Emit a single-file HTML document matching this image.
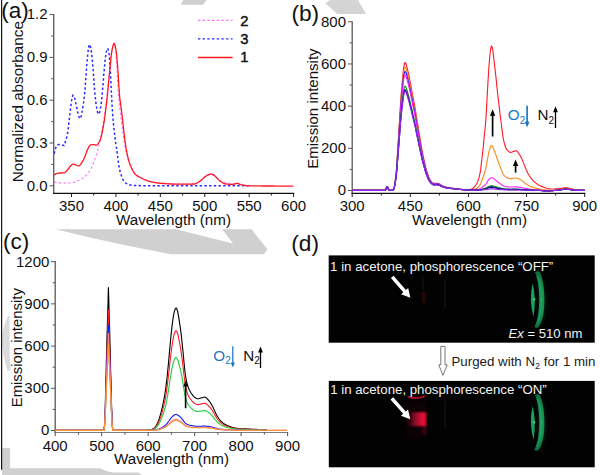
<!DOCTYPE html>
<html><head><meta charset="utf-8"><title>figure</title>
<style>html,body{margin:0;padding:0;background:#fff;}body{width:600px;height:475px;overflow:hidden;}svg{display:block;}text{font-family:"Liberation Sans", sans-serif;}</style>
</head><body>
<svg width="600" height="475" viewBox="0 0 600 475">
<defs><filter id="blur1" x="-50%" y="-50%" width="200%" height="200%"><feGaussianBlur stdDeviation="0.7"/></filter><filter id="blur15" x="-50%" y="-50%" width="200%" height="200%"><feGaussianBlur stdDeviation="1.25"/></filter><filter id="blur1b" x="-50%" y="-50%" width="200%" height="200%"><feGaussianBlur stdDeviation="0.95"/></filter><filter id="blur2" x="-50%" y="-50%" width="200%" height="200%"><feGaussianBlur stdDeviation="2.2"/></filter><linearGradient id="ringg" x1="0" x2="0" y1="0" y2="1"><stop offset="0" stop-color="#0f6e3e"/><stop offset="0.3" stop-color="#189253"/><stop offset="0.7" stop-color="#189253"/><stop offset="1" stop-color="#0f6e3e"/></linearGradient><linearGradient id="redg" x1="0" x2="1" y1="0" y2="0"><stop offset="0" stop-color="#50061a" stop-opacity="0"/><stop offset="0.18" stop-color="#56061a" stop-opacity="0.3"/><stop offset="0.45" stop-color="#960c28" stop-opacity="0.85"/><stop offset="0.78" stop-color="#dc1036"/><stop offset="1" stop-color="#f2143e"/></linearGradient></defs>
<rect width="600" height="475" fill="#fff"/>
<polygon points="183.5,0 206.8,0 202.8,4.8 180.6,4.8" fill="#d0d0d0"/>
<polygon points="330,0 358,0 366,14 337.3,14 325.3,3.3" fill="#d4d4d4"/>
<path d="M55.8,229.3 L176,229.3 L233,243.4 L222.3,229.3 L251.5,229.3 L267.4,249.2 L264,254.3 L171,254.3 Q110,243 55.8,229.3 Z" fill="#d0d0d0"/>
<path d="M9.6,316 L8.2,316 Q2.3,326 2.3,340 Q2.5,356 7.3,370.6 L10.6,370.6 Q9.4,356 9.6,340 Z" fill="#dbdbdb"/>
<path d="M2.1,448 L10.1,448 L10.1,468.3 L100,468.3 Q108,472.5 116,472.5 L138,472.5 L142,475 L2.1,475 Z" fill="#d0d0d0"/>
<rect x="1.1" y="0" width="1.1" height="469.8" fill="#000"/>
<line x1="53.73" y1="13.9" x2="53.73" y2="194.0" stroke="#585858" stroke-width="1.3"/>
<line x1="53.029999999999994" y1="193.4" x2="294.20000000000005" y2="193.4" stroke="#111" stroke-width="1.1"/>
<line x1="49.529999999999994" y1="185.8" x2="53.73" y2="185.8" stroke="#585858" stroke-width="1"/>
<line x1="49.529999999999994" y1="142.99" x2="53.73" y2="142.99" stroke="#585858" stroke-width="1"/>
<line x1="49.529999999999994" y1="100.18000000000002" x2="53.73" y2="100.18000000000002" stroke="#585858" stroke-width="1"/>
<line x1="49.529999999999994" y1="57.370000000000005" x2="53.73" y2="57.370000000000005" stroke="#585858" stroke-width="1"/>
<line x1="49.529999999999994" y1="14.56000000000003" x2="53.73" y2="14.56000000000003" stroke="#585858" stroke-width="1"/>
<line x1="51.129999999999995" y1="164.395" x2="53.73" y2="164.395" stroke="#585858" stroke-width="1"/>
<line x1="51.129999999999995" y1="121.58500000000001" x2="53.73" y2="121.58500000000001" stroke="#585858" stroke-width="1"/>
<line x1="51.129999999999995" y1="78.77500000000002" x2="53.73" y2="78.77500000000002" stroke="#585858" stroke-width="1"/>
<line x1="51.129999999999995" y1="35.965" x2="53.73" y2="35.965" stroke="#585858" stroke-width="1"/>
<line x1="71.5" y1="193.4" x2="71.5" y2="197.0" stroke="#111" stroke-width="0.95"/>
<line x1="115.92" y1="193.4" x2="115.92" y2="197.0" stroke="#111" stroke-width="0.95"/>
<line x1="160.34" y1="193.4" x2="160.34" y2="197.0" stroke="#111" stroke-width="0.95"/>
<line x1="204.76" y1="193.4" x2="204.76" y2="197.0" stroke="#111" stroke-width="0.95"/>
<line x1="249.18" y1="193.4" x2="249.18" y2="197.0" stroke="#111" stroke-width="0.95"/>
<line x1="293.6" y1="193.4" x2="293.6" y2="197.0" stroke="#111" stroke-width="0.95"/>
<line x1="93.71000000000001" y1="193.4" x2="93.71000000000001" y2="195.5" stroke="#111" stroke-width="0.95"/>
<line x1="138.13" y1="193.4" x2="138.13" y2="195.5" stroke="#111" stroke-width="0.95"/>
<line x1="182.55" y1="193.4" x2="182.55" y2="195.5" stroke="#111" stroke-width="0.95"/>
<line x1="226.97" y1="193.4" x2="226.97" y2="195.5" stroke="#111" stroke-width="0.95"/>
<line x1="271.39" y1="193.4" x2="271.39" y2="195.5" stroke="#111" stroke-width="0.95"/>
<text x="71.5" y="211" font-size="15" text-anchor="middle" fill="#111">350</text>
<text x="115.92" y="211" font-size="15" text-anchor="middle" fill="#111">400</text>
<text x="160.34" y="211" font-size="15" text-anchor="middle" fill="#111">450</text>
<text x="204.76" y="211" font-size="15" text-anchor="middle" fill="#111">500</text>
<text x="249.18" y="211" font-size="15" text-anchor="middle" fill="#111">550</text>
<text x="293.6" y="211" font-size="15" text-anchor="middle" fill="#111">600</text>
<text x="47.6" y="190.65" font-size="15" text-anchor="end" fill="#111">0.0</text>
<text x="47.6" y="147.84" font-size="15" text-anchor="end" fill="#111">0.3</text>
<text x="47.6" y="105.03" font-size="15" text-anchor="end" fill="#111">0.6</text>
<text x="47.6" y="62.22" font-size="15" text-anchor="end" fill="#111">0.9</text>
<text x="47.6" y="19.41" font-size="15" text-anchor="end" fill="#111">1.2</text>
<text x="173.5" y="224.6" font-size="15.2" text-anchor="middle" fill="#111">Wavelength (nm)</text>
<text transform="translate(23.2,101.7) rotate(-90)" font-size="15.27" text-anchor="middle" fill="#111">Normalized absorbance</text>
<path d="M54.2,182.1 L55.0,182.2 L55.7,182.3 L56.5,182.4 L57.2,182.5 L58.0,182.6 L58.7,182.7 L59.5,182.8 L60.2,182.8 L61.0,182.9 L61.7,182.9 L62.5,182.9 L63.2,182.9 L64.0,182.9 L64.7,182.9 L65.5,183.0 L66.2,183.0 L67.0,183.0 L67.7,183.0 L68.5,183.0 L69.2,183.0 L70.0,183.0 L70.7,183.0 L71.5,183.0 L72.2,182.8 L73.0,182.6 L73.7,182.4 L74.5,182.2 L75.2,181.9 L76.0,181.7 L76.7,181.4 L77.5,181.0 L78.2,180.6 L79.0,180.3 L79.7,179.9 L80.5,179.5 L81.2,179.1 L82.0,178.7 L82.7,178.2 L83.5,177.7 L84.2,177.1 L85.0,176.5 L85.7,175.8 L86.5,175.1 L87.2,174.3 L88.0,173.4 L88.7,172.4 L89.5,171.2 L90.2,170.0 L91.0,168.7 L91.7,167.2 L92.5,165.5 L93.2,163.8 L94.0,161.9 L94.7,159.9 L95.5,157.8 L96.2,155.5 L97.0,153.0 L97.7,150.3 L98.5,147.3 L99.2,144.1 L100.0,140.7 L100.7,137.1 L101.5,133.3 L102.2,129.1 L103.0,124.7 L103.7,120.0 L104.5,115.0 L105.2,109.6 L106.0,104.0 L106.7,98.0 L107.5,91.4 L108.2,84.3 L109.0,77.1 L109.7,70.1 L110.5,62.6 L111.2,55.5 L112.0,50.2 L112.7,46.8 L113.5,44.2 L114.2,43.6 L115.0,46.2 L115.7,50.7 L116.5,60.7 L117.2,73.6 L118.0,89.0 L118.7,99.0 L119.5,105.5 L120.2,111.7 L121.0,118.0 L121.7,123.9 L122.5,129.6 L123.2,134.9 L124.0,140.1 L124.7,145.1 L125.5,149.1 L126.2,152.3 L127.0,155.1 L127.7,157.7 L128.4,160.1 L129.2,162.3 L129.9,164.2 L130.7,165.9 L131.4,167.6 L132.2,169.2 L132.9,170.7 L133.7,172.0 L134.4,173.2 L135.2,174.1 L135.9,174.8 L136.7,175.4 L137.4,175.9 L138.2,176.4 L138.9,176.8 L139.7,177.1 L140.4,177.5 L141.2,177.9 L141.9,178.3 L142.7,178.7 L143.4,179.0 L144.2,179.4 L144.9,179.7 L145.7,180.0 L146.4,180.4 L147.2,180.6 L147.9,180.9 L148.7,181.1 L149.4,181.4 L150.2,181.5 L150.9,181.7 L151.7,181.9 L152.4,182.1 L153.2,182.2 L153.9,182.4 L154.7,182.5 L155.4,182.6 L156.2,182.7 L156.9,182.9 L157.7,183.0 L158.4,183.0 L159.2,183.1 L159.9,183.2 L160.7,183.3 L161.4,183.3 L162.2,183.4 L162.9,183.4 L163.7,183.5 L164.4,183.5 L165.2,183.6 L165.9,183.7 L166.7,183.7 L167.4,183.8 L168.2,183.8 L168.9,183.8 L169.7,183.9 L170.4,183.9 L171.2,184.0 L171.9,184.0 L172.7,184.0 L173.4,184.1 L174.2,184.1 L174.9,184.1 L175.7,184.1 L176.4,184.2 L177.2,184.2 L177.9,184.2 L178.7,184.2 L179.4,184.2 L180.2,184.2 L180.9,184.2 L181.7,184.2 L182.4,184.2 L183.2,184.2 L183.9,184.2 L184.7,184.2 L185.4,184.2 L186.2,184.2 L186.9,184.2 L187.7,184.1 L188.4,184.1 L189.2,184.1 L189.9,184.1 L190.7,184.1 L191.4,184.1 L192.2,184.1 L192.9,184.0 L193.7,184.0 L194.4,184.0 L195.2,183.8 L195.9,183.5 L196.7,183.2 L197.4,182.8 L198.2,182.4 L198.9,181.9 L199.7,181.5 L200.4,181.0 L201.2,180.5 L201.9,179.8 L202.7,179.1 L203.4,178.4 L204.2,177.8 L204.9,177.2 L205.7,176.7 L206.4,176.3 L207.2,175.9 L207.9,175.5 L208.7,175.1 L209.4,174.9 L210.2,174.7 L210.9,174.6 L211.7,174.7 L212.4,174.9 L213.2,175.2 L213.9,175.6 L214.7,176.0 L215.4,176.5 L216.2,177.1 L216.9,177.7 L217.7,178.5 L218.4,179.2 L219.2,179.9 L219.9,180.4 L220.7,180.8 L221.4,181.2 L222.2,181.5 L222.9,181.9 L223.7,182.2 L224.4,182.4 L225.2,182.5 L225.9,182.6 L226.7,182.7 L227.4,182.8 L228.2,182.9 L228.9,183.0 L229.7,183.2 L230.4,183.6 L231.2,184.0 L231.9,184.2 L232.7,184.2 L233.4,184.0 L234.2,183.9 L234.9,183.7 L235.7,183.5 L236.4,183.4 L237.2,183.4 L237.9,183.5 L238.7,183.8 L239.4,184.1 L240.2,184.4 L240.9,184.7 L241.7,184.9 L242.4,185.1 L243.2,185.2 L243.9,185.3 L244.7,185.4 L245.4,185.5 L246.2,185.6 L246.9,185.7 L247.7,185.7 L248.4,185.8 L249.2,185.8 L249.9,185.8" fill="none" stroke="#ff78ff" stroke-width="1.2" stroke-dasharray="2.4 2.3"/>
<path d="M54.2,153.7 L55.0,150.3 L55.7,148.0 L56.5,146.2 L57.2,145.3 L58.0,144.8 L58.7,144.6 L59.5,144.5 L60.2,144.4 L61.0,144.5 L61.7,144.7 L62.5,145.0 L63.2,145.4 L64.0,145.6 L64.7,143.9 L65.5,141.2 L66.2,138.8 L67.0,136.0 L67.7,132.3 L68.5,126.6 L69.2,119.9 L70.0,113.4 L70.7,106.9 L71.5,100.9 L72.2,97.3 L73.0,95.2 L73.7,95.7 L74.5,97.4 L75.2,100.1 L76.0,103.8 L76.7,107.5 L77.5,111.3 L78.2,114.2 L79.0,116.8 L79.7,118.6 L80.5,118.5 L81.2,115.9 L82.0,112.2 L82.7,108.2 L83.5,103.0 L84.2,96.9 L85.0,89.7 L85.7,79.7 L86.5,68.9 L87.2,59.8 L88.0,52.0 L88.7,47.0 L89.5,44.4 L90.2,45.5 L91.0,48.7 L91.7,54.2 L92.5,61.5 L93.2,70.6 L94.0,81.6 L94.7,91.8 L95.5,99.2 L96.2,105.4 L97.0,109.8 L97.7,112.6 L98.5,114.2 L99.2,113.5 L100.0,111.2 L100.7,107.2 L101.5,101.1 L102.2,94.0 L103.0,85.0 L103.7,75.4 L104.5,67.2 L105.2,59.4 L106.0,53.7 L106.7,50.3 L107.5,48.3 L108.2,49.3 L109.0,52.7 L109.7,61.1 L110.5,74.2 L111.2,88.5 L112.0,103.9 L112.7,115.6 L113.5,124.1 L114.2,131.2 L115.0,137.5 L115.7,143.1 L116.5,148.1 L117.2,153.2 L118.0,159.0 L118.7,164.6 L119.5,168.9 L120.2,172.0 L121.0,174.4 L121.7,176.5 L122.5,178.5 L123.2,180.1 L124.0,181.3 L124.7,182.2 L125.5,182.8 L126.2,183.3 L127.0,183.8 L127.7,184.1 L128.4,184.5 L129.2,184.7 L129.9,184.9 L130.7,185.0 L131.4,185.1 L132.2,185.2 L132.9,185.3 L133.7,185.4 L134.4,185.4 L135.2,185.5 L135.9,185.5 L136.7,185.5 L137.4,185.6 L138.2,185.6 L138.9,185.6 L139.7,185.6 L140.4,185.7 L141.2,185.7 L141.9,185.7 L142.7,185.7 L143.4,185.7 L144.2,185.7 L144.9,185.7 L145.7,185.7 L146.4,185.7 L147.2,185.7 L147.9,185.7 L148.7,185.7 L149.4,185.7 L150.2,185.7 L150.9,185.7 L151.7,185.7 L152.4,185.7 L153.2,185.7 L153.9,185.7 L154.7,185.7 L155.4,185.7 L156.2,185.7 L156.9,185.7 L157.7,185.7 L158.4,185.7 L159.2,185.7 L159.9,185.7 L160.7,185.7 L161.4,185.7 L162.2,185.7 L162.9,185.7 L163.7,185.7 L164.4,185.7 L165.2,185.7 L165.9,185.7 L166.7,185.7 L167.4,185.8 L168.2,185.8 L168.9,185.8 L169.7,185.8 L170.4,185.8 L171.2,185.8 L171.9,185.8 L172.7,185.8 L173.4,185.8 L174.2,185.8 L174.9,185.8 L175.7,185.8 L176.4,185.8 L177.2,185.8 L177.9,185.8 L178.7,185.8 L179.4,185.8 L180.2,185.8 L180.9,185.8 L181.7,185.8 L182.4,185.8 L183.2,185.8 L183.9,185.8 L184.7,185.8 L185.4,185.8 L186.2,185.8 L186.9,185.8 L187.7,185.8 L188.4,185.8 L189.2,185.8 L189.9,185.8 L190.7,185.8 L191.4,185.8 L192.2,185.8 L192.9,185.8 L193.7,185.8 L194.4,185.8 L195.2,185.8 L195.9,185.8 L196.7,185.8 L197.4,185.8 L198.2,185.8 L198.9,185.8 L199.7,185.8 L200.4,185.8 L201.2,185.8 L201.9,185.8 L202.7,185.8 L203.4,185.8 L204.2,185.8 L204.9,185.8 L205.7,185.8 L206.4,185.8 L207.2,185.8 L207.9,185.8 L208.7,185.8 L209.4,185.8 L210.2,185.8 L210.9,185.8 L211.7,185.8 L212.4,185.8 L213.2,185.8 L213.9,185.8 L214.7,185.8 L215.4,185.8 L216.2,185.8 L216.9,185.8 L217.7,185.8 L218.4,185.8 L219.2,185.8 L219.9,185.8 L220.7,185.8 L221.4,185.8 L222.2,185.8 L222.9,185.8 L223.7,185.8 L224.4,185.8 L225.2,185.8 L225.9,185.8 L226.7,185.8 L227.4,185.8 L228.2,185.8 L228.9,185.8 L229.7,185.8 L230.4,185.8 L231.2,185.8 L231.9,185.8 L232.7,185.8 L233.4,185.8 L234.2,185.8 L234.9,185.8 L235.7,185.8 L236.4,185.8 L237.2,185.8 L237.9,185.8 L238.7,185.8 L239.4,185.8 L240.2,185.8 L240.9,185.8 L241.7,185.8 L242.4,185.8 L243.2,185.8 L243.9,185.8 L244.7,185.8 L245.4,185.8 L246.2,185.8 L246.9,185.8 L247.7,185.8 L248.4,185.8" fill="none" stroke="#2a2aff" stroke-width="1.5" stroke-dasharray="2.4 2.3"/>
<path d="M54.2,175.2 L55.0,174.5 L55.7,173.9 L56.5,173.5 L57.2,173.3 L58.0,173.2 L58.7,173.1 L59.5,173.0 L60.2,173.0 L61.0,173.0 L61.7,173.0 L62.5,172.9 L63.2,172.9 L64.0,172.9 L64.7,172.6 L65.5,172.0 L66.2,171.3 L67.0,170.6 L67.7,169.7 L68.5,168.8 L69.2,167.8 L70.0,166.7 L70.7,165.8 L71.5,165.1 L72.2,164.5 L73.0,164.1 L73.7,164.2 L74.5,164.4 L75.2,164.7 L76.0,165.0 L76.7,165.3 L77.5,165.6 L78.2,165.8 L79.0,165.9 L79.7,165.5 L80.5,164.6 L81.2,163.4 L82.0,162.3 L82.7,161.1 L83.5,159.7 L84.2,158.2 L85.0,156.5 L85.7,154.4 L86.5,152.2 L87.2,150.1 L88.0,148.6 L88.7,147.1 L89.5,145.8 L90.2,145.0 L91.0,144.8 L91.7,144.7 L92.5,144.6 L93.2,144.6 L94.0,144.6 L94.7,144.8 L95.5,145.0 L96.2,145.1 L97.0,144.9 L97.7,144.2 L98.5,143.2 L99.2,142.0 L100.0,140.6 L100.7,138.5 L101.5,135.6 L102.2,132.1 L103.0,128.3 L103.7,124.2 L104.5,119.3 L105.2,113.9 L106.0,107.9 L106.7,101.6 L107.5,94.5 L108.2,86.6 L109.0,78.6 L109.7,71.0 L110.5,63.1 L111.2,55.6 L112.0,50.2 L112.7,46.8 L113.5,44.2 L114.2,43.6 L115.0,45.3 L115.7,48.5 L116.5,53.2 L117.2,61.4 L118.0,71.3 L118.7,83.7 L119.5,95.1 L120.2,101.7 L121.0,106.9 L121.7,112.3 L122.5,118.9 L123.2,126.0 L124.0,132.8 L124.7,138.7 L125.5,144.3 L126.2,149.1 L127.0,153.0 L127.7,156.4 L128.4,159.5 L129.2,162.1 L129.9,164.2 L130.7,166.1 L131.4,167.8 L132.2,169.4 L132.9,170.8 L133.7,172.1 L134.4,173.2 L135.2,174.1 L135.9,174.8 L136.7,175.4 L137.4,175.9 L138.2,176.4 L138.9,176.8 L139.7,177.1 L140.4,177.5 L141.2,177.9 L141.9,178.3 L142.7,178.7 L143.4,179.0 L144.2,179.4 L144.9,179.7 L145.7,180.0 L146.4,180.4 L147.2,180.6 L147.9,180.9 L148.7,181.1 L149.4,181.4 L150.2,181.5 L150.9,181.7 L151.7,181.9 L152.4,182.1 L153.2,182.2 L153.9,182.4 L154.7,182.5 L155.4,182.6 L156.2,182.7 L156.9,182.9 L157.7,183.0 L158.4,183.0 L159.2,183.1 L159.9,183.2 L160.7,183.3 L161.4,183.3 L162.2,183.4 L162.9,183.4 L163.7,183.5 L164.4,183.5 L165.2,183.6 L165.9,183.7 L166.7,183.7 L167.4,183.8 L168.2,183.8 L168.9,183.8 L169.7,183.9 L170.4,183.9 L171.2,184.0 L171.9,184.0 L172.7,184.0 L173.4,184.1 L174.2,184.1 L174.9,184.1 L175.7,184.1 L176.4,184.2 L177.2,184.2 L177.9,184.2 L178.7,184.2 L179.4,184.2 L180.2,184.2 L180.9,184.2 L181.7,184.2 L182.4,184.2 L183.2,184.2 L183.9,184.2 L184.7,184.2 L185.4,184.2 L186.2,184.2 L186.9,184.2 L187.7,184.1 L188.4,184.1 L189.2,184.1 L189.9,184.1 L190.7,184.1 L191.4,184.1 L192.2,184.1 L192.9,184.0 L193.7,184.0 L194.4,184.0 L195.2,183.8 L195.9,183.5 L196.7,183.1 L197.4,182.7 L198.2,182.2 L198.9,181.7 L199.7,181.2 L200.4,180.7 L201.2,180.1 L201.9,179.5 L202.7,178.8 L203.4,178.1 L204.2,177.4 L204.9,176.8 L205.7,176.2 L206.4,175.7 L207.2,175.2 L207.9,174.8 L208.7,174.5 L209.4,174.3 L210.2,174.1 L210.9,174.0 L211.7,174.1 L212.4,174.3 L213.2,174.6 L213.9,175.1 L214.7,175.7 L215.4,176.4 L216.2,177.2 L216.9,178.0 L217.7,178.8 L218.4,179.6 L219.2,180.4 L219.9,181.0 L220.7,181.5 L221.4,182.0 L222.2,182.4 L222.9,182.9 L223.7,183.3 L224.4,183.6 L225.2,183.8 L225.9,184.0 L226.7,184.1 L227.4,184.2 L228.2,184.2 L228.9,184.3 L229.7,184.3 L230.4,184.4 L231.2,184.4 L231.9,184.4 L232.7,184.3 L233.4,184.2 L234.2,184.0 L234.9,183.8 L235.7,183.6 L236.4,183.4 L237.2,183.4 L237.9,183.5 L238.7,183.8 L239.4,184.1 L240.2,184.4 L240.9,184.7 L241.7,184.9 L242.4,185.1 L243.2,185.2 L243.9,185.3 L244.7,185.4 L245.4,185.5 L246.2,185.6 L246.9,185.6 L247.7,185.7 L248.4,185.7 L249.2,185.8 L249.9,185.8 L250.7,185.8 L251.4,185.8 L252.2,185.8 L252.9,185.8 L253.7,185.9 L254.4,185.9 L255.2,185.9 L255.9,185.9 L256.7,185.9 L257.4,185.9 L258.2,185.9 L258.9,185.9 L259.7,185.9 L260.4,185.9 L261.2,185.9 L261.9,186.0 L262.7,186.0 L263.4,186.0 L264.2,186.0 L264.9,186.0 L265.7,186.0 L266.4,186.0 L267.2,186.0 L267.9,186.0 L268.7,186.0 L269.4,186.0 L270.2,186.0 L270.9,186.0 L271.7,186.0 L272.4,186.0 L273.2,186.0 L273.9,186.0 L274.7,186.1 L275.4,186.1 L276.2,186.1 L276.9,186.1 L277.7,186.1 L278.4,186.1 L279.2,186.1 L279.9,186.1 L280.7,186.1 L281.4,186.1 L282.2,186.1 L282.9,186.1 L283.7,186.1 L284.4,186.1 L285.2,186.1 L285.9,186.1 L286.7,186.1 L287.4,186.1 L288.2,186.1 L288.9,186.1 L289.7,186.1 L290.4,186.1 L291.2,186.1 L291.9,186.1 L292.7,186.1 L293.4,186.1" fill="none" stroke="#ff1820" stroke-width="1.3"/>
<line x1="197.9" y1="20.3" x2="232.6" y2="20.3" stroke="#ff6cff" stroke-width="1.35" stroke-dasharray="2.4 2.3"/>
<text x="240.2" y="25.5" font-size="14.8" stroke="#111" stroke-width="0.45" fill="#111">2</text>
<line x1="197.9" y1="38.8" x2="232.6" y2="38.8" stroke="#2a2aff" stroke-width="1.35" stroke-dasharray="2.4 2.3"/>
<text x="240.2" y="43.9" font-size="14.8" stroke="#111" stroke-width="0.45" fill="#111">3</text>
<line x1="197.9" y1="57.5" x2="232.6" y2="57.5" stroke="#ff1820" stroke-width="1.35"/>
<text x="240.2" y="62.0" font-size="14.8" stroke="#111" stroke-width="0.45" fill="#111">1</text>
<text x="1.3" y="18.4" font-size="22.5" fill="#111">(a)</text>
<line x1="352.2" y1="21.2" x2="352.2" y2="194.0" stroke="#585858" stroke-width="1.3"/>
<line x1="351.5" y1="193.4" x2="585.3000000000001" y2="193.4" stroke="#111" stroke-width="1.1"/>
<line x1="348.0" y1="190.5" x2="352.2" y2="190.5" stroke="#585858" stroke-width="1"/>
<line x1="348.0" y1="148.32" x2="352.2" y2="148.32" stroke="#585858" stroke-width="1"/>
<line x1="348.0" y1="106.14" x2="352.2" y2="106.14" stroke="#585858" stroke-width="1"/>
<line x1="348.0" y1="63.959999999999994" x2="352.2" y2="63.959999999999994" stroke="#585858" stroke-width="1"/>
<line x1="348.0" y1="21.78" x2="352.2" y2="21.78" stroke="#585858" stroke-width="1"/>
<line x1="349.59999999999997" y1="169.41" x2="352.2" y2="169.41" stroke="#585858" stroke-width="1"/>
<line x1="349.59999999999997" y1="127.22999999999999" x2="352.2" y2="127.22999999999999" stroke="#585858" stroke-width="1"/>
<line x1="349.59999999999997" y1="85.05" x2="352.2" y2="85.05" stroke="#585858" stroke-width="1"/>
<line x1="349.59999999999997" y1="42.870000000000005" x2="352.2" y2="42.870000000000005" stroke="#585858" stroke-width="1"/>
<line x1="352.2" y1="193.4" x2="352.2" y2="197.0" stroke="#111" stroke-width="0.95"/>
<line x1="410.325" y1="193.4" x2="410.325" y2="197.0" stroke="#111" stroke-width="0.95"/>
<line x1="468.45" y1="193.4" x2="468.45" y2="197.0" stroke="#111" stroke-width="0.95"/>
<line x1="526.575" y1="193.4" x2="526.575" y2="197.0" stroke="#111" stroke-width="0.95"/>
<line x1="584.7" y1="193.4" x2="584.7" y2="197.0" stroke="#111" stroke-width="0.95"/>
<line x1="381.2625" y1="193.4" x2="381.2625" y2="195.5" stroke="#111" stroke-width="0.95"/>
<line x1="439.3875" y1="193.4" x2="439.3875" y2="195.5" stroke="#111" stroke-width="0.95"/>
<line x1="497.5125" y1="193.4" x2="497.5125" y2="195.5" stroke="#111" stroke-width="0.95"/>
<line x1="555.6375" y1="193.4" x2="555.6375" y2="195.5" stroke="#111" stroke-width="0.95"/>
<text x="352.2" y="211" font-size="15" text-anchor="middle" fill="#111">300</text>
<text x="410.325" y="211" font-size="15" text-anchor="middle" fill="#111">450</text>
<text x="468.45" y="211" font-size="15" text-anchor="middle" fill="#111">600</text>
<text x="526.575" y="211" font-size="15" text-anchor="middle" fill="#111">750</text>
<text x="584.7" y="211" font-size="15" text-anchor="middle" fill="#111">900</text>
<text x="346" y="195.35" font-size="15" text-anchor="end" fill="#111">0</text>
<text x="346" y="153.17" font-size="15" text-anchor="end" fill="#111">200</text>
<text x="346" y="110.99" font-size="15" text-anchor="end" fill="#111">400</text>
<text x="346" y="68.81" font-size="15" text-anchor="end" fill="#111">600</text>
<text x="346" y="26.63" font-size="15" text-anchor="end" fill="#111">800</text>
<text x="469.5" y="224.6" font-size="15.2" text-anchor="middle" fill="#111">Wavelength (nm)</text>
<text transform="translate(317.8,108.6) rotate(-90)" font-size="15.05" text-anchor="middle" fill="#111">Emission intensity</text>
<path d="M352.2,190.4 L352.8,190.4 L353.4,190.4 L353.9,190.4 L354.5,190.4 L355.1,190.4 L355.7,190.4 L356.3,190.4 L356.8,190.4 L357.4,190.4 L358.0,190.4 L358.6,190.4 L359.2,190.4 L359.8,190.4 L360.3,190.4 L360.9,190.4 L361.5,190.4 L362.1,190.4 L362.7,190.4 L363.2,190.4 L363.8,190.4 L364.4,190.4 L365.0,190.4 L365.6,190.4 L366.1,190.4 L366.7,190.4 L367.3,190.4 L367.9,190.4 L368.5,190.4 L369.1,190.4 L369.6,190.4 L370.2,190.4 L370.8,190.4 L371.4,190.4 L372.0,190.4 L372.5,190.4 L373.1,190.4 L373.7,190.4 L374.3,190.4 L374.9,190.4 L375.4,190.4 L376.0,190.4 L376.6,190.4 L377.2,190.4 L377.8,190.4 L378.4,190.4 L378.9,190.4 L379.5,190.4 L380.1,190.4 L380.7,190.4 L381.3,190.4 L381.8,190.4 L382.4,190.4 L383.0,190.4 L383.6,190.4 L384.2,190.4 L384.8,190.4 L385.3,190.1 L385.9,189.3 L386.5,187.8 L387.1,186.7 L387.7,187.2 L388.2,188.7 L388.8,189.9 L389.4,190.3 L390.0,190.4 L390.6,190.4 L391.1,190.4 L391.7,190.4 L392.3,190.3 L392.9,189.9 L393.5,189.3 L394.1,188.1 L394.6,185.2 L395.2,181.4 L395.8,176.4 L396.4,170.3 L397.0,162.5 L397.5,153.8 L398.1,144.3 L398.7,134.6 L399.3,124.6 L399.9,114.8 L400.4,105.6 L401.0,97.1 L401.6,89.4 L402.2,82.6 L402.8,76.4 L403.3,70.4 L403.9,66.4 L404.5,63.5 L405.1,62.4 L405.7,63.3 L406.3,64.8 L406.8,66.7 L407.4,69.2 L408.0,71.7 L408.6,74.3 L409.2,76.9 L409.7,79.8 L410.3,82.7 L410.9,85.8 L411.5,89.0 L412.1,92.1 L412.6,95.1 L413.2,98.1 L413.8,101.2 L414.4,104.4 L415.0,107.7 L415.6,111.2 L416.1,114.8 L416.7,118.4 L417.3,122.1 L417.9,125.7 L418.5,129.2 L419.0,132.7 L419.6,136.2 L420.2,139.7 L420.8,143.1 L421.4,146.5 L421.9,149.8 L422.5,152.9 L423.1,155.7 L423.7,158.5 L424.3,161.2 L424.9,163.8 L425.4,166.2 L426.0,168.6 L426.6,170.7 L427.2,172.6 L427.8,174.4 L428.3,176.0 L428.9,177.4 L429.5,178.7 L430.1,179.7 L430.7,180.7 L431.2,181.5 L431.8,182.1 L432.4,182.6 L433.0,183.0 L433.6,183.4 L434.2,183.4 L434.7,183.4 L435.3,183.3 L435.9,183.3 L436.5,183.3 L437.1,183.4 L437.6,183.4 L438.2,183.4 L438.8,183.6 L439.4,184.0 L440.0,184.3 L440.6,184.7 L441.1,185.0 L441.7,185.4 L442.3,185.7 L442.9,186.0 L443.5,186.3 L444.0,186.5 L444.6,186.7 L445.2,186.9 L445.8,187.1 L446.4,187.2 L446.9,187.3 L447.5,187.5 L448.1,187.6 L448.7,187.7 L449.3,187.8 L449.9,187.9 L450.4,188.0 L451.0,188.0 L451.6,188.1 L452.2,188.2 L452.8,188.3 L453.3,188.3 L453.9,188.4 L454.5,188.5 L455.1,188.6 L455.7,188.7 L456.2,188.7 L456.8,188.8 L457.4,188.9 L458.0,189.0 L458.6,189.0 L459.1,189.1 L459.7,189.2 L460.3,189.2 L460.9,189.3 L461.5,189.4 L462.1,189.4 L462.6,189.5 L463.2,189.5 L463.8,189.6 L464.4,189.7 L465.0,189.7 L465.5,189.7 L466.1,189.7 L466.7,189.7 L467.3,189.7 L467.9,189.7 L468.4,189.6 L469.0,189.6 L469.6,189.5 L470.2,189.3 L470.8,189.2 L471.4,189.0 L471.9,188.8 L472.5,188.4 L473.1,188.0 L473.7,187.5 L474.3,186.9 L474.8,186.3 L475.4,185.6 L476.0,184.8 L476.6,183.8 L477.2,182.7 L477.8,181.4 L478.3,179.8 L478.9,177.9 L479.5,175.6 L480.1,172.9 L480.7,169.4 L481.2,164.9 L481.8,159.8 L482.4,154.8 L483.0,149.3 L483.6,143.6 L484.1,137.8 L484.7,132.2 L485.3,126.2 L485.9,118.9 L486.5,109.4 L487.0,98.9 L487.6,88.7 L488.2,78.3 L488.8,68.7 L489.4,61.2 L490.0,54.8 L490.5,50.2 L491.1,47.0 L491.7,45.9 L492.3,47.7 L492.9,50.5 L493.4,55.1 L494.0,60.3 L494.6,65.3 L495.2,70.6 L495.8,75.9 L496.4,81.2 L496.9,86.8 L497.5,92.3 L498.1,97.6 L498.7,102.7 L499.3,107.6 L499.8,112.3 L500.4,116.9 L501.0,121.5 L501.6,126.3 L502.2,130.9 L502.7,135.1 L503.3,138.5 L503.9,141.4 L504.5,143.8 L505.1,145.8 L505.6,147.2 L506.2,148.4 L506.8,149.4 L507.4,150.2 L508.0,150.8 L508.6,151.4 L509.1,151.9 L509.7,152.3 L510.3,152.4 L510.9,152.3 L511.5,152.2 L512.0,152.0 L512.6,151.8 L513.2,151.6 L513.8,151.4 L514.4,151.1 L515.0,150.9 L515.5,150.7 L516.1,150.7 L516.7,150.9 L517.3,151.5 L517.9,152.2 L518.4,153.0 L519.0,153.8 L519.6,154.7 L520.2,155.7 L520.8,156.8 L521.3,157.9 L521.9,159.1 L522.5,160.5 L523.1,161.9 L523.7,163.4 L524.2,164.9 L524.8,166.3 L525.4,167.7 L526.0,169.1 L526.6,170.5 L527.2,171.8 L527.7,173.0 L528.3,174.0 L528.9,175.0 L529.5,176.0 L530.1,176.8 L530.6,177.6 L531.2,178.4 L531.8,179.1 L532.4,179.8 L533.0,180.5 L533.5,181.1 L534.1,181.7 L534.7,182.2 L535.3,182.6 L535.9,183.1 L536.5,183.5 L537.0,183.9 L537.6,184.3 L538.2,184.7 L538.8,185.0 L539.4,185.3 L539.9,185.6 L540.5,185.9 L541.1,186.1 L541.7,186.4 L542.3,186.6 L542.9,186.9 L543.4,187.1 L544.0,187.3 L544.6,187.6 L545.2,187.8 L545.8,188.0 L546.3,188.2 L546.9,188.4 L547.5,188.6 L548.1,188.7 L548.7,188.8 L549.2,188.9 L549.8,188.9 L550.4,189.0 L551.0,189.0 L551.6,189.0 L552.1,189.0 L552.7,189.0 L553.3,189.0 L553.9,189.0 L554.5,189.0 L555.1,189.0 L555.6,188.9 L556.2,188.9 L556.8,188.9 L557.4,188.8 L558.0,188.8 L558.5,188.7 L559.1,188.6 L559.7,188.6 L560.3,188.5 L560.9,188.4 L561.5,188.3 L562.0,188.2 L562.6,188.1 L563.2,188.0 L563.8,187.9 L564.4,187.8 L564.9,187.8 L565.5,187.7 L566.1,187.7 L566.7,187.8 L567.3,187.8 L567.8,187.9 L568.4,188.0 L569.0,188.2 L569.6,188.3 L570.2,188.5 L570.8,188.6 L571.3,188.8 L571.9,188.9 L572.5,189.1 L573.1,189.2 L573.7,189.3 L574.2,189.5 L574.8,189.6 L575.4,189.7 L576.0,189.8 L576.6,189.9 L577.1,190.0 L577.7,190.0 L578.3,190.1 L578.9,190.1 L579.5,190.2 L580.0,190.2 L580.6,190.2 L581.2,190.2 L581.8,190.2 L582.4,190.3 L583.0,190.3 L583.5,190.3 L584.1,190.3 L584.7,190.3" fill="none" stroke="#ff1a28" stroke-width="1.12" stroke-linejoin="round"/>
<path d="M352.2,190.4 L352.8,190.4 L353.4,190.4 L353.9,190.4 L354.5,190.4 L355.1,190.4 L355.7,190.4 L356.3,190.4 L356.8,190.4 L357.4,190.4 L358.0,190.4 L358.6,190.4 L359.2,190.4 L359.8,190.4 L360.3,190.4 L360.9,190.4 L361.5,190.4 L362.1,190.4 L362.7,190.4 L363.2,190.4 L363.8,190.4 L364.4,190.4 L365.0,190.4 L365.6,190.4 L366.1,190.4 L366.7,190.4 L367.3,190.4 L367.9,190.4 L368.5,190.4 L369.1,190.4 L369.6,190.4 L370.2,190.4 L370.8,190.4 L371.4,190.4 L372.0,190.4 L372.5,190.4 L373.1,190.4 L373.7,190.4 L374.3,190.4 L374.9,190.4 L375.4,190.4 L376.0,190.4 L376.6,190.4 L377.2,190.4 L377.8,190.4 L378.4,190.4 L378.9,190.4 L379.5,190.4 L380.1,190.4 L380.7,190.4 L381.3,190.4 L381.8,190.4 L382.4,190.4 L383.0,190.4 L383.6,190.4 L384.2,190.4 L384.8,190.4 L385.3,190.1 L385.9,189.3 L386.5,187.8 L387.1,186.7 L387.7,187.2 L388.2,188.7 L388.8,189.9 L389.4,190.3 L390.0,190.4 L390.6,190.4 L391.1,190.4 L391.7,190.4 L392.3,190.3 L392.9,189.9 L393.5,189.4 L394.1,188.2 L394.6,185.4 L395.2,181.7 L395.8,176.9 L396.4,171.1 L397.0,163.5 L397.5,155.1 L398.1,146.0 L398.7,136.7 L399.3,127.0 L399.9,117.5 L400.4,108.7 L401.0,100.5 L401.6,93.1 L402.2,86.5 L402.8,80.5 L403.3,74.8 L403.9,70.9 L404.5,68.1 L405.1,67.1 L405.7,67.9 L406.3,69.4 L406.8,71.2 L407.4,73.6 L408.0,76.0 L408.6,78.5 L409.2,81.1 L409.7,83.8 L410.3,86.6 L410.9,89.6 L411.5,92.6 L412.1,95.6 L412.6,98.6 L413.2,101.5 L413.8,104.5 L414.4,107.5 L415.0,110.7 L415.6,114.1 L416.1,117.5 L416.7,121.0 L417.3,124.5 L417.9,128.0 L418.5,131.5 L419.0,134.8 L419.6,138.1 L420.2,141.5 L420.8,144.8 L421.4,148.1 L421.9,151.2 L422.5,154.2 L423.1,157.0 L423.7,159.6 L424.3,162.2 L424.9,164.7 L425.4,167.1 L426.0,169.4 L426.6,171.4 L427.2,173.3 L427.8,175.0 L428.3,176.5 L428.9,177.9 L429.5,179.1 L430.1,180.1 L430.7,181.0 L431.2,181.8 L431.8,182.4 L432.4,182.9 L433.0,183.3 L433.6,183.6 L434.2,183.6 L434.7,183.6 L435.3,183.6 L435.9,183.6 L436.5,183.6 L437.1,183.6 L437.6,183.6 L438.2,183.7 L438.8,183.9 L439.4,184.2 L440.0,184.6 L440.6,184.9 L441.1,185.2 L441.7,185.5 L442.3,185.9 L442.9,186.2 L443.5,186.5 L444.0,186.7 L444.6,186.9 L445.2,187.0 L445.8,187.2 L446.4,187.3 L446.9,187.5 L447.5,187.6 L448.1,187.7 L448.7,187.8 L449.3,187.9 L449.9,188.0 L450.4,188.0 L451.0,188.1 L451.6,188.2 L452.2,188.3 L452.8,188.3 L453.3,188.4 L453.9,188.5 L454.5,188.6 L455.1,188.6 L455.7,188.7 L456.2,188.8 L456.8,188.9 L457.4,188.9 L458.0,189.0 L458.6,189.1 L459.1,189.2 L459.7,189.2 L460.3,189.3 L460.9,189.3 L461.5,189.4 L462.1,189.5 L462.6,189.5 L463.2,189.6 L463.8,189.6 L464.4,189.7 L465.0,189.7 L465.5,189.8 L466.1,189.8 L466.7,189.8 L467.3,189.8 L467.9,189.9 L468.4,189.9 L469.0,189.8 L469.6,189.8 L470.2,189.8 L470.8,189.8 L471.4,189.7 L471.9,189.7 L472.5,189.6 L473.1,189.4 L473.7,189.3 L474.3,189.1 L474.8,188.9 L475.4,188.7 L476.0,188.5 L476.6,188.2 L477.2,187.9 L477.8,187.5 L478.3,187.0 L478.9,186.4 L479.5,185.7 L480.1,184.8 L480.7,183.8 L481.2,182.4 L481.8,180.8 L482.4,179.2 L483.0,177.5 L483.6,175.8 L484.1,174.0 L484.7,172.2 L485.3,170.4 L485.9,168.1 L486.5,165.1 L487.0,161.9 L487.6,158.7 L488.2,155.5 L488.8,152.5 L489.4,150.2 L490.0,148.2 L490.5,146.7 L491.1,145.8 L491.7,145.4 L492.3,146.0 L492.9,146.9 L493.4,148.3 L494.0,149.9 L494.6,151.5 L495.2,153.1 L495.8,154.7 L496.4,156.4 L496.9,158.1 L497.5,159.8 L498.1,161.5 L498.7,163.1 L499.3,164.6 L499.8,166.1 L500.4,167.5 L501.0,168.9 L501.6,170.4 L502.2,171.9 L502.7,173.2 L503.3,174.2 L503.9,175.1 L504.5,175.9 L505.1,176.5 L505.6,176.9 L506.2,177.3 L506.8,177.6 L507.4,177.9 L508.0,178.1 L508.6,178.3 L509.1,178.4 L509.7,178.5 L510.3,178.6 L510.9,178.5 L511.5,178.5 L512.0,178.4 L512.6,178.4 L513.2,178.3 L513.8,178.2 L514.4,178.2 L515.0,178.1 L515.5,178.0 L516.1,178.0 L516.7,178.1 L517.3,178.3 L517.9,178.5 L518.4,178.8 L519.0,179.0 L519.6,179.3 L520.2,179.6 L520.8,179.9 L521.3,180.3 L521.9,180.7 L522.5,181.1 L523.1,181.5 L523.7,182.0 L524.2,182.5 L524.8,182.9 L525.4,183.3 L526.0,183.8 L526.6,184.2 L527.2,184.6 L527.7,185.0 L528.3,185.3 L528.9,185.6 L529.5,185.9 L530.1,186.2 L530.6,186.4 L531.2,186.7 L531.8,186.9 L532.4,187.1 L533.0,187.3 L533.5,187.5 L534.1,187.7 L534.7,187.9 L535.3,188.0 L535.9,188.1 L536.5,188.3 L537.0,188.4 L537.6,188.5 L538.2,188.7 L538.8,188.8 L539.4,188.9 L539.9,189.0 L540.5,189.1 L541.1,189.2 L541.7,189.3 L542.3,189.5 L542.9,189.6 L543.4,189.7 L544.0,189.8 L544.6,189.9 L545.2,190.1 L545.8,190.2 L546.3,190.2 L546.9,190.3 L547.5,190.4 L548.1,190.4 L548.7,190.4 L549.2,190.4 L549.8,190.4 L550.4,190.3 L551.0,190.3 L551.6,190.2 L552.1,190.2 L552.7,190.2 L553.3,190.1 L553.9,190.1 L554.5,190.0 L555.1,190.0 L555.6,190.0 L556.2,189.9 L556.8,189.9 L557.4,189.8 L558.0,189.8 L558.5,189.7 L559.1,189.6 L559.7,189.5 L560.3,189.5 L560.9,189.4 L561.5,189.3 L562.0,189.2 L562.6,189.1 L563.2,189.0 L563.8,188.9 L564.4,188.8 L564.9,188.8 L565.5,188.7 L566.1,188.7 L566.7,188.7 L567.3,188.8 L567.8,188.9 L568.4,188.9 L569.0,189.0 L569.6,189.1 L570.2,189.3 L570.8,189.4 L571.3,189.5 L571.9,189.6 L572.5,189.7 L573.1,189.8 L573.7,189.9 L574.2,190.0 L574.8,190.0 L575.4,190.1 L576.0,190.2 L576.6,190.2 L577.1,190.3 L577.7,190.3 L578.3,190.3 L578.9,190.3 L579.5,190.3 L580.0,190.4 L580.6,190.4 L581.2,190.4 L581.8,190.4 L582.4,190.4 L583.0,190.4 L583.5,190.4 L584.1,190.4 L584.7,190.4" fill="none" stroke="#ff8a1a" stroke-width="1.12" stroke-linejoin="round"/>
<path d="M352.2,190.4 L352.8,190.4 L353.4,190.4 L353.9,190.4 L354.5,190.4 L355.1,190.4 L355.7,190.4 L356.3,190.4 L356.8,190.4 L357.4,190.4 L358.0,190.4 L358.6,190.4 L359.2,190.4 L359.8,190.4 L360.3,190.4 L360.9,190.4 L361.5,190.4 L362.1,190.4 L362.7,190.4 L363.2,190.4 L363.8,190.4 L364.4,190.4 L365.0,190.4 L365.6,190.4 L366.1,190.4 L366.7,190.4 L367.3,190.4 L367.9,190.4 L368.5,190.4 L369.1,190.4 L369.6,190.4 L370.2,190.4 L370.8,190.4 L371.4,190.4 L372.0,190.4 L372.5,190.4 L373.1,190.4 L373.7,190.4 L374.3,190.4 L374.9,190.4 L375.4,190.4 L376.0,190.4 L376.6,190.4 L377.2,190.4 L377.8,190.4 L378.4,190.4 L378.9,190.4 L379.5,190.4 L380.1,190.4 L380.7,190.4 L381.3,190.4 L381.8,190.4 L382.4,190.4 L383.0,190.4 L383.6,190.4 L384.2,190.4 L384.8,190.4 L385.3,190.1 L385.9,189.3 L386.5,187.8 L387.1,186.7 L387.7,187.2 L388.2,188.7 L388.8,189.9 L389.4,190.3 L390.0,190.4 L390.6,190.4 L391.1,190.4 L391.7,190.4 L392.3,190.3 L392.9,190.0 L393.5,189.4 L394.1,188.3 L394.6,185.6 L395.2,182.0 L395.8,177.4 L396.4,171.7 L397.0,164.4 L397.5,156.3 L398.1,147.5 L398.7,138.5 L399.3,129.2 L399.9,120.0 L400.4,111.5 L401.0,103.5 L401.6,96.4 L402.2,90.0 L402.8,84.3 L403.3,78.7 L403.9,75.0 L404.5,72.3 L405.1,71.3 L405.7,72.1 L406.3,73.5 L406.8,75.2 L407.4,77.6 L408.0,80.0 L408.6,82.3 L409.2,84.8 L409.7,87.4 L410.3,90.2 L410.9,93.1 L411.5,96.0 L412.1,98.9 L412.6,101.7 L413.2,104.5 L413.8,107.4 L414.4,110.3 L415.0,113.5 L415.6,116.7 L416.1,120.0 L416.7,123.4 L417.3,126.8 L417.9,130.2 L418.5,133.5 L419.0,136.7 L419.6,139.9 L420.2,143.2 L420.8,146.4 L421.4,149.5 L421.9,152.6 L422.5,155.5 L423.1,158.1 L423.7,160.7 L424.3,163.2 L424.9,165.6 L425.4,167.9 L426.0,170.1 L426.6,172.1 L427.2,173.9 L427.8,175.5 L428.3,177.0 L428.9,178.3 L429.5,179.5 L430.1,180.5 L430.7,181.4 L431.2,182.1 L431.8,182.7 L432.4,183.2 L433.0,183.6 L433.6,183.9 L434.2,183.9 L434.7,183.8 L435.3,183.8 L435.9,183.8 L436.5,183.8 L437.1,183.8 L437.6,183.9 L438.2,183.9 L438.8,184.1 L439.4,184.4 L440.0,184.8 L440.6,185.1 L441.1,185.4 L441.7,185.7 L442.3,186.0 L442.9,186.3 L443.5,186.6 L444.0,186.8 L444.6,187.0 L445.2,187.2 L445.8,187.3 L446.4,187.4 L446.9,187.6 L447.5,187.7 L448.1,187.8 L448.7,187.9 L449.3,188.0 L449.9,188.1 L450.4,188.1 L451.0,188.2 L451.6,188.3 L452.2,188.3 L452.8,188.4 L453.3,188.5 L453.9,188.6 L454.5,188.6 L455.1,188.7 L455.7,188.8 L456.2,188.9 L456.8,188.9 L457.4,189.0 L458.0,189.1 L458.6,189.1 L459.1,189.2 L459.7,189.3 L460.3,189.3 L460.9,189.4 L461.5,189.4 L462.1,189.5 L462.6,189.5 L463.2,189.6 L463.8,189.7 L464.4,189.7 L465.0,189.8 L465.5,189.8 L466.1,189.8 L466.7,189.9 L467.3,189.9 L467.9,189.9 L468.4,190.0 L469.0,190.0 L469.6,190.0 L470.2,190.0 L470.8,190.0 L471.4,190.0 L471.9,190.0 L472.5,190.0 L473.1,190.0 L473.7,190.0 L474.3,190.0 L474.8,190.0 L475.4,190.0 L476.0,190.0 L476.6,190.0 L477.2,190.0 L477.8,190.0 L478.3,189.9 L478.9,189.9 L479.5,189.8 L480.1,189.8 L480.7,189.7 L481.2,189.6 L481.8,189.5 L482.4,189.3 L483.0,189.2 L483.6,189.1 L484.1,188.9 L484.7,188.8 L485.3,188.6 L485.9,188.4 L486.5,188.2 L487.0,187.9 L487.6,187.6 L488.2,187.4 L488.8,187.1 L489.4,186.9 L490.0,186.8 L490.5,186.6 L491.1,186.6 L491.7,186.5 L492.3,186.6 L492.9,186.7 L493.4,186.8 L494.0,186.9 L494.6,187.1 L495.2,187.2 L495.8,187.3 L496.4,187.5 L496.9,187.6 L497.5,187.8 L498.1,187.9 L498.7,188.0 L499.3,188.2 L499.8,188.3 L500.4,188.4 L501.0,188.5 L501.6,188.7 L502.2,188.8 L502.7,188.9 L503.3,189.0 L503.9,189.1 L504.5,189.1 L505.1,189.2 L505.6,189.2 L506.2,189.3 L506.8,189.3 L507.4,189.3 L508.0,189.3 L508.6,189.3 L509.1,189.4 L509.7,189.4 L510.3,189.4 L510.9,189.4 L511.5,189.4 L512.0,189.4 L512.6,189.4 L513.2,189.4 L513.8,189.4 L514.4,189.3 L515.0,189.3 L515.5,189.3 L516.1,189.3 L516.7,189.3 L517.3,189.4 L517.9,189.4 L518.4,189.4 L519.0,189.4 L519.6,189.5 L520.2,189.5 L520.8,189.5 L521.3,189.5 L521.9,189.6 L522.5,189.6 L523.1,189.6 L523.7,189.7 L524.2,189.7 L524.8,189.8 L525.4,189.8 L526.0,189.8 L526.6,189.9 L527.2,189.9 L527.7,189.9 L528.3,190.0 L528.9,190.0 L529.5,190.0 L530.1,190.0 L530.6,190.1 L531.2,190.1 L531.8,190.1 L532.4,190.1 L533.0,190.1 L533.5,190.2 L534.1,190.2 L534.7,190.2 L535.3,190.2 L535.9,190.2 L536.5,190.2 L537.0,190.3 L537.6,190.3 L538.2,190.3 L538.8,190.3 L539.4,190.4 L539.9,190.4 L540.5,190.5 L541.1,190.5 L541.7,190.6 L542.3,190.6 L542.9,190.7 L543.4,190.8 L544.0,190.9 L544.6,190.9 L545.2,191.0 L545.8,191.0 L546.3,191.1 L546.9,191.1 L547.5,191.1 L548.1,191.1 L548.7,191.0 L549.2,191.0 L549.8,190.9 L550.4,190.9 L551.0,190.8 L551.6,190.7 L552.1,190.7 L552.7,190.6 L553.3,190.6 L553.9,190.5 L554.5,190.5 L555.1,190.4 L555.6,190.4 L556.2,190.3 L556.8,190.3 L557.4,190.2 L558.0,190.2 L558.5,190.1 L559.1,190.0 L559.7,190.0 L560.3,189.9 L560.9,189.8 L561.5,189.7 L562.0,189.6 L562.6,189.5 L563.2,189.4 L563.8,189.3 L564.4,189.2 L564.9,189.2 L565.5,189.1 L566.1,189.1 L566.7,189.1 L567.3,189.2 L567.8,189.2 L568.4,189.3 L569.0,189.4 L569.6,189.5 L570.2,189.6 L570.8,189.7 L571.3,189.8 L571.9,189.9 L572.5,190.0 L573.1,190.1 L573.7,190.1 L574.2,190.2 L574.8,190.2 L575.4,190.3 L576.0,190.3 L576.6,190.4 L577.1,190.4 L577.7,190.4 L578.3,190.4 L578.9,190.4 L579.5,190.4 L580.0,190.4 L580.6,190.4 L581.2,190.4 L581.8,190.4 L582.4,190.4 L583.0,190.4 L583.5,190.4 L584.1,190.4 L584.7,190.4" fill="none" stroke="#1a1aff" stroke-width="1.12" stroke-linejoin="round"/>
<path d="M352.2,190.4 L352.8,190.4 L353.4,190.4 L353.9,190.4 L354.5,190.4 L355.1,190.4 L355.7,190.4 L356.3,190.4 L356.8,190.4 L357.4,190.4 L358.0,190.4 L358.6,190.4 L359.2,190.4 L359.8,190.4 L360.3,190.4 L360.9,190.4 L361.5,190.4 L362.1,190.4 L362.7,190.4 L363.2,190.4 L363.8,190.4 L364.4,190.4 L365.0,190.4 L365.6,190.4 L366.1,190.4 L366.7,190.4 L367.3,190.4 L367.9,190.4 L368.5,190.4 L369.1,190.4 L369.6,190.4 L370.2,190.4 L370.8,190.4 L371.4,190.4 L372.0,190.4 L372.5,190.4 L373.1,190.4 L373.7,190.4 L374.3,190.4 L374.9,190.4 L375.4,190.4 L376.0,190.4 L376.6,190.4 L377.2,190.4 L377.8,190.4 L378.4,190.4 L378.9,190.4 L379.5,190.4 L380.1,190.4 L380.7,190.4 L381.3,190.4 L381.8,190.4 L382.4,190.4 L383.0,190.4 L383.6,190.4 L384.2,190.4 L384.8,190.4 L385.3,190.1 L385.9,189.3 L386.5,187.8 L387.1,186.7 L387.7,187.2 L388.2,188.7 L388.8,189.9 L389.4,190.3 L390.0,190.4 L390.6,190.4 L391.1,190.4 L391.7,190.4 L392.3,190.3 L392.9,190.0 L393.5,189.5 L394.1,188.3 L394.6,185.7 L395.2,182.3 L395.8,177.8 L396.4,172.3 L397.0,165.2 L397.5,157.4 L398.1,148.8 L398.7,140.1 L399.3,131.0 L399.9,122.1 L400.4,113.9 L401.0,106.2 L401.6,99.2 L402.2,93.1 L402.8,87.5 L403.3,82.1 L403.9,78.5 L404.5,75.8 L405.1,74.9 L405.7,75.6 L406.3,77.0 L406.8,78.7 L407.4,81.0 L408.0,83.3 L408.6,85.6 L409.2,88.0 L409.7,90.5 L410.3,93.2 L410.9,96.0 L411.5,98.8 L412.1,101.6 L412.6,104.4 L413.2,107.1 L413.8,109.9 L414.4,112.8 L415.0,115.8 L415.6,118.9 L416.1,122.1 L416.7,125.4 L417.3,128.7 L417.9,132.0 L418.5,135.2 L419.0,138.3 L419.6,141.4 L420.2,144.6 L420.8,147.7 L421.4,150.8 L421.9,153.7 L422.5,156.5 L423.1,159.1 L423.7,161.6 L424.3,164.0 L424.9,166.4 L425.4,168.6 L426.0,170.7 L426.6,172.6 L427.2,174.4 L427.8,176.0 L428.3,177.4 L428.9,178.7 L429.5,179.8 L430.1,180.8 L430.7,181.6 L431.2,182.3 L431.8,182.9 L432.4,183.4 L433.0,183.8 L433.6,184.1 L434.2,184.1 L434.7,184.0 L435.3,184.0 L435.9,184.0 L436.5,184.0 L437.1,184.0 L437.6,184.1 L438.2,184.1 L438.8,184.3 L439.4,184.6 L440.0,184.9 L440.6,185.2 L441.1,185.5 L441.7,185.8 L442.3,186.2 L442.9,186.5 L443.5,186.7 L444.0,186.9 L444.6,187.1 L445.2,187.3 L445.8,187.4 L446.4,187.5 L446.9,187.6 L447.5,187.8 L448.1,187.9 L448.7,188.0 L449.3,188.0 L449.9,188.1 L450.4,188.2 L451.0,188.3 L451.6,188.3 L452.2,188.4 L452.8,188.5 L453.3,188.5 L453.9,188.6 L454.5,188.7 L455.1,188.8 L455.7,188.8 L456.2,188.9 L456.8,189.0 L457.4,189.0 L458.0,189.1 L458.6,189.2 L459.1,189.2 L459.7,189.3 L460.3,189.4 L460.9,189.4 L461.5,189.5 L462.1,189.5 L462.6,189.6 L463.2,189.6 L463.8,189.7 L464.4,189.7 L465.0,189.8 L465.5,189.8 L466.1,189.9 L466.7,189.9 L467.3,189.9 L467.9,189.9 L468.4,189.9 L469.0,190.0 L469.6,190.0 L470.2,190.0 L470.8,190.0 L471.4,190.0 L471.9,190.0 L472.5,190.0 L473.1,189.9 L473.7,189.9 L474.3,189.9 L474.8,189.8 L475.4,189.8 L476.0,189.7 L476.6,189.6 L477.2,189.5 L477.8,189.4 L478.3,189.3 L478.9,189.2 L479.5,189.0 L480.1,188.7 L480.7,188.4 L481.2,188.0 L481.8,187.6 L482.4,187.2 L483.0,186.7 L483.6,186.2 L484.1,185.7 L484.7,185.2 L485.3,184.7 L485.9,184.1 L486.5,183.2 L487.0,182.3 L487.6,181.4 L488.2,180.5 L488.8,179.7 L489.4,179.0 L490.0,178.5 L490.5,178.1 L491.1,177.8 L491.7,177.7 L492.3,177.8 L492.9,178.1 L493.4,178.5 L494.0,178.9 L494.6,179.4 L495.2,179.8 L495.8,180.3 L496.4,180.8 L496.9,181.3 L497.5,181.8 L498.1,182.2 L498.7,182.7 L499.3,183.1 L499.8,183.5 L500.4,183.9 L501.0,184.3 L501.6,184.7 L502.2,185.2 L502.7,185.5 L503.3,185.8 L503.9,186.1 L504.5,186.3 L505.1,186.5 L505.6,186.6 L506.2,186.7 L506.8,186.8 L507.4,186.9 L508.0,186.9 L508.6,187.0 L509.1,187.0 L509.7,187.0 L510.3,187.0 L510.9,187.0 L511.5,187.0 L512.0,187.0 L512.6,187.0 L513.2,187.0 L513.8,187.0 L514.4,186.9 L515.0,186.9 L515.5,186.9 L516.1,186.9 L516.7,186.9 L517.3,187.0 L517.9,187.0 L518.4,187.1 L519.0,187.2 L519.6,187.3 L520.2,187.4 L520.8,187.4 L521.3,187.6 L521.9,187.7 L522.5,187.8 L523.1,187.9 L523.7,188.0 L524.2,188.2 L524.8,188.3 L525.4,188.4 L526.0,188.5 L526.6,188.7 L527.2,188.8 L527.7,188.9 L528.3,189.0 L528.9,189.1 L529.5,189.1 L530.1,189.2 L530.6,189.3 L531.2,189.4 L531.8,189.4 L532.4,189.5 L533.0,189.5 L533.5,189.6 L534.1,189.6 L534.7,189.7 L535.3,189.7 L535.9,189.8 L536.5,189.8 L537.0,189.9 L537.6,189.9 L538.2,190.0 L538.8,190.0 L539.4,190.1 L539.9,190.1 L540.5,190.2 L541.1,190.2 L541.7,190.3 L542.3,190.4 L542.9,190.5 L543.4,190.6 L544.0,190.6 L544.6,190.7 L545.2,190.8 L545.8,190.8 L546.3,190.9 L546.9,190.9 L547.5,190.9 L548.1,190.9 L548.7,190.9 L549.2,190.9 L549.8,190.8 L550.4,190.8 L551.0,190.7 L551.6,190.6 L552.1,190.6 L552.7,190.5 L553.3,190.5 L553.9,190.4 L554.5,190.4 L555.1,190.3 L555.6,190.3 L556.2,190.2 L556.8,190.2 L557.4,190.1 L558.0,190.1 L558.5,190.0 L559.1,190.0 L559.7,189.9 L560.3,189.8 L560.9,189.7 L561.5,189.6 L562.0,189.5 L562.6,189.4 L563.2,189.3 L563.8,189.2 L564.4,189.1 L564.9,189.1 L565.5,189.1 L566.1,189.0 L566.7,189.1 L567.3,189.1 L567.8,189.1 L568.4,189.2 L569.0,189.3 L569.6,189.4 L570.2,189.5 L570.8,189.6 L571.3,189.7 L571.9,189.8 L572.5,189.9 L573.1,190.0 L573.7,190.1 L574.2,190.1 L574.8,190.2 L575.4,190.2 L576.0,190.3 L576.6,190.3 L577.1,190.3 L577.7,190.4 L578.3,190.4 L578.9,190.4 L579.5,190.4 L580.0,190.4 L580.6,190.4 L581.2,190.4 L581.8,190.4 L582.4,190.4 L583.0,190.4 L583.5,190.4 L584.1,190.4 L584.7,190.4" fill="none" stroke="#ff20ff" stroke-width="1.12" stroke-linejoin="round"/>
<path d="M352.2,190.4 L352.8,190.4 L353.4,190.4 L353.9,190.4 L354.5,190.4 L355.1,190.4 L355.7,190.4 L356.3,190.4 L356.8,190.4 L357.4,190.4 L358.0,190.4 L358.6,190.4 L359.2,190.4 L359.8,190.4 L360.3,190.4 L360.9,190.4 L361.5,190.4 L362.1,190.4 L362.7,190.4 L363.2,190.4 L363.8,190.4 L364.4,190.4 L365.0,190.4 L365.6,190.4 L366.1,190.4 L366.7,190.4 L367.3,190.4 L367.9,190.4 L368.5,190.4 L369.1,190.4 L369.6,190.4 L370.2,190.4 L370.8,190.4 L371.4,190.4 L372.0,190.4 L372.5,190.4 L373.1,190.4 L373.7,190.4 L374.3,190.4 L374.9,190.4 L375.4,190.4 L376.0,190.4 L376.6,190.4 L377.2,190.4 L377.8,190.4 L378.4,190.4 L378.9,190.4 L379.5,190.4 L380.1,190.4 L380.7,190.4 L381.3,190.4 L381.8,190.4 L382.4,190.4 L383.0,190.4 L383.6,190.4 L384.2,190.4 L384.8,190.4 L385.3,190.1 L385.9,189.3 L386.5,187.8 L387.1,186.7 L387.7,187.2 L388.2,188.7 L388.8,189.9 L389.4,190.3 L390.0,190.4 L390.6,190.4 L391.1,190.4 L391.7,190.4 L392.3,190.3 L392.9,190.0 L393.5,189.5 L394.1,188.5 L394.6,186.2 L395.2,183.1 L395.8,179.0 L396.4,174.0 L397.0,167.7 L397.5,160.6 L398.1,152.8 L398.7,144.9 L399.3,136.8 L399.9,128.7 L400.4,121.3 L401.0,114.3 L401.6,108.1 L402.2,102.5 L402.8,97.4 L403.3,92.6 L403.9,89.3 L404.5,86.9 L405.1,86.1 L405.7,86.7 L406.3,88.0 L406.8,89.5 L407.4,91.6 L408.0,93.6 L408.6,95.7 L409.2,97.9 L409.7,100.2 L410.3,102.6 L410.9,105.1 L411.5,107.7 L412.1,110.2 L412.6,112.7 L413.2,115.2 L413.8,117.7 L414.4,120.3 L415.0,123.0 L415.6,125.8 L416.1,128.7 L416.7,131.7 L417.3,134.7 L417.9,137.6 L418.5,140.5 L419.0,143.3 L419.6,146.2 L420.2,149.0 L420.8,151.9 L421.4,154.6 L421.9,157.3 L422.5,159.8 L423.1,162.1 L423.7,164.4 L424.3,166.6 L424.9,168.7 L425.4,170.7 L426.0,172.6 L426.6,174.3 L427.2,175.9 L427.8,177.4 L428.3,178.7 L428.9,179.8 L429.5,180.8 L430.1,181.7 L430.7,182.5 L431.2,183.1 L431.8,183.6 L432.4,184.1 L433.0,184.4 L433.6,184.7 L434.2,184.7 L434.7,184.7 L435.3,184.6 L435.9,184.6 L436.5,184.7 L437.1,184.7 L437.6,184.7 L438.2,184.7 L438.8,184.9 L439.4,185.2 L440.0,185.5 L440.6,185.7 L441.1,186.0 L441.7,186.3 L442.3,186.6 L442.9,186.9 L443.5,187.1 L444.0,187.3 L444.6,187.4 L445.2,187.6 L445.8,187.7 L446.4,187.8 L446.9,187.9 L447.5,188.0 L448.1,188.1 L448.7,188.2 L449.3,188.3 L449.9,188.3 L450.4,188.4 L451.0,188.5 L451.6,188.5 L452.2,188.6 L452.8,188.7 L453.3,188.7 L453.9,188.8 L454.5,188.9 L455.1,188.9 L455.7,189.0 L456.2,189.0 L456.8,189.1 L457.4,189.2 L458.0,189.2 L458.6,189.3 L459.1,189.4 L459.7,189.4 L460.3,189.5 L460.9,189.5 L461.5,189.6 L462.1,189.6 L462.6,189.7 L463.2,189.7 L463.8,189.8 L464.4,189.8 L465.0,189.8 L465.5,189.9 L466.1,189.9 L466.7,189.9 L467.3,190.0 L467.9,190.0 L468.4,190.0 L469.0,190.0 L469.6,190.0 L470.2,190.0 L470.8,190.1 L471.4,190.1 L471.9,190.1 L472.5,190.1 L473.1,190.1 L473.7,190.1 L474.3,190.1 L474.8,190.1 L475.4,190.0 L476.0,190.0 L476.6,190.0 L477.2,190.0 L477.8,190.0 L478.3,189.9 L478.9,189.9 L479.5,189.8 L480.1,189.7 L480.7,189.6 L481.2,189.5 L481.8,189.3 L482.4,189.2 L483.0,189.0 L483.6,188.8 L484.1,188.6 L484.7,188.5 L485.3,188.3 L485.9,188.0 L486.5,187.7 L487.0,187.4 L487.6,187.1 L488.2,186.7 L488.8,186.4 L489.4,186.2 L490.0,186.0 L490.5,185.8 L491.1,185.7 L491.7,185.7 L492.3,185.8 L492.9,185.9 L493.4,186.0 L494.0,186.2 L494.6,186.3 L495.2,186.5 L495.8,186.7 L496.4,186.8 L496.9,187.0 L497.5,187.2 L498.1,187.4 L498.7,187.5 L499.3,187.7 L499.8,187.9 L500.4,188.0 L501.0,188.2 L501.6,188.3 L502.2,188.5 L502.7,188.6 L503.3,188.7 L503.9,188.8 L504.5,188.9 L505.1,188.9 L505.6,189.0 L506.2,189.0 L506.8,189.1 L507.4,189.1 L508.0,189.1 L508.6,189.1 L509.1,189.1 L509.7,189.2 L510.3,189.2 L510.9,189.2 L511.5,189.2 L512.0,189.1 L512.6,189.1 L513.2,189.1 L513.8,189.1 L514.4,189.1 L515.0,189.1 L515.5,189.1 L516.1,189.1 L516.7,189.1 L517.3,189.1 L517.9,189.2 L518.4,189.2 L519.0,189.2 L519.6,189.2 L520.2,189.3 L520.8,189.3 L521.3,189.4 L521.9,189.4 L522.5,189.4 L523.1,189.5 L523.7,189.5 L524.2,189.6 L524.8,189.6 L525.4,189.7 L526.0,189.7 L526.6,189.8 L527.2,189.8 L527.7,189.8 L528.3,189.9 L528.9,189.9 L529.5,189.9 L530.1,190.0 L530.6,190.0 L531.2,190.0 L531.8,190.0 L532.4,190.1 L533.0,190.1 L533.5,190.1 L534.1,190.1 L534.7,190.2 L535.3,190.2 L535.9,190.2 L536.5,190.2 L537.0,190.2 L537.6,190.3 L538.2,190.3 L538.8,190.3 L539.4,190.3 L539.9,190.4 L540.5,190.4 L541.1,190.5 L541.7,190.6 L542.3,190.6 L542.9,190.7 L543.4,190.8 L544.0,190.8 L544.6,190.9 L545.2,191.0 L545.8,191.0 L546.3,191.1 L546.9,191.1 L547.5,191.1 L548.1,191.1 L548.7,191.0 L549.2,191.0 L549.8,190.9 L550.4,190.9 L551.0,190.8 L551.6,190.7 L552.1,190.7 L552.7,190.6 L553.3,190.6 L553.9,190.5 L554.5,190.5 L555.1,190.4 L555.6,190.4 L556.2,190.3 L556.8,190.3 L557.4,190.2 L558.0,190.2 L558.5,190.1 L559.1,190.0 L559.7,190.0 L560.3,189.9 L560.9,189.8 L561.5,189.7 L562.0,189.6 L562.6,189.5 L563.2,189.4 L563.8,189.3 L564.4,189.2 L564.9,189.2 L565.5,189.1 L566.1,189.1 L566.7,189.1 L567.3,189.2 L567.8,189.2 L568.4,189.3 L569.0,189.4 L569.6,189.5 L570.2,189.6 L570.8,189.7 L571.3,189.8 L571.9,189.9 L572.5,190.0 L573.1,190.1 L573.7,190.1 L574.2,190.2 L574.8,190.2 L575.4,190.3 L576.0,190.3 L576.6,190.3 L577.1,190.4 L577.7,190.4 L578.3,190.4 L578.9,190.4 L579.5,190.4 L580.0,190.4 L580.6,190.4 L581.2,190.4 L581.8,190.4 L582.4,190.4 L583.0,190.4 L583.5,190.4 L584.1,190.4 L584.7,190.4" fill="none" stroke="#1a8a1a" stroke-width="1.12" stroke-linejoin="round"/>
<path d="M352.2,190.4 L352.8,190.4 L353.4,190.4 L353.9,190.4 L354.5,190.4 L355.1,190.4 L355.7,190.4 L356.3,190.4 L356.8,190.4 L357.4,190.4 L358.0,190.4 L358.6,190.4 L359.2,190.4 L359.8,190.4 L360.3,190.4 L360.9,190.4 L361.5,190.4 L362.1,190.4 L362.7,190.4 L363.2,190.4 L363.8,190.4 L364.4,190.4 L365.0,190.4 L365.6,190.4 L366.1,190.4 L366.7,190.4 L367.3,190.4 L367.9,190.4 L368.5,190.4 L369.1,190.4 L369.6,190.4 L370.2,190.4 L370.8,190.4 L371.4,190.4 L372.0,190.4 L372.5,190.4 L373.1,190.4 L373.7,190.4 L374.3,190.4 L374.9,190.4 L375.4,190.4 L376.0,190.4 L376.6,190.4 L377.2,190.4 L377.8,190.4 L378.4,190.4 L378.9,190.4 L379.5,190.4 L380.1,190.4 L380.7,190.4 L381.3,190.4 L381.8,190.4 L382.4,190.4 L383.0,190.4 L383.6,190.4 L384.2,190.4 L384.8,190.4 L385.3,190.1 L385.9,189.3 L386.5,187.8 L387.1,186.7 L387.7,187.2 L388.2,188.7 L388.8,189.9 L389.4,190.3 L390.0,190.4 L390.6,190.4 L391.1,190.4 L391.7,190.4 L392.3,190.3 L392.9,190.0 L393.5,189.6 L394.1,188.6 L394.6,186.3 L395.2,183.3 L395.8,179.4 L396.4,174.6 L397.0,168.4 L397.5,161.6 L398.1,154.1 L398.7,146.5 L399.3,138.6 L399.9,130.9 L400.4,123.7 L401.0,116.9 L401.6,110.9 L402.2,105.5 L402.8,100.6 L403.3,95.9 L403.9,92.8 L404.5,90.5 L405.1,89.6 L405.7,90.3 L406.3,91.5 L406.8,93.0 L407.4,94.9 L408.0,97.0 L408.6,99.0 L409.2,101.1 L409.7,103.3 L410.3,105.6 L410.9,108.1 L411.5,110.5 L412.1,113.0 L412.6,115.4 L413.2,117.8 L413.8,120.2 L414.4,122.7 L415.0,125.3 L415.6,128.0 L416.1,130.9 L416.7,133.7 L417.3,136.6 L417.9,139.4 L418.5,142.2 L419.0,145.0 L419.6,147.7 L420.2,150.5 L420.8,153.2 L421.4,155.8 L421.9,158.4 L422.5,160.8 L423.1,163.1 L423.7,165.3 L424.3,167.4 L424.9,169.4 L425.4,171.4 L426.0,173.2 L426.6,174.9 L427.2,176.4 L427.8,177.8 L428.3,179.1 L428.9,180.2 L429.5,181.2 L430.1,182.0 L430.7,182.8 L431.2,183.4 L431.8,183.9 L432.4,184.3 L433.0,184.6 L433.6,184.9 L434.2,184.9 L434.7,184.9 L435.3,184.8 L435.9,184.8 L436.5,184.8 L437.1,184.9 L437.6,184.9 L438.2,184.9 L438.8,185.1 L439.4,185.3 L440.0,185.6 L440.6,185.9 L441.1,186.2 L441.7,186.4 L442.3,186.7 L442.9,187.0 L443.5,187.2 L444.0,187.4 L444.6,187.5 L445.2,187.7 L445.8,187.8 L446.4,187.9 L446.9,188.0 L447.5,188.1 L448.1,188.2 L448.7,188.3 L449.3,188.3 L449.9,188.4 L450.4,188.5 L451.0,188.5 L451.6,188.6 L452.2,188.7 L452.8,188.7 L453.3,188.8 L453.9,188.8 L454.5,188.9 L455.1,189.0 L455.7,189.0 L456.2,189.1 L456.8,189.2 L457.4,189.2 L458.0,189.3 L458.6,189.3 L459.1,189.4 L459.7,189.4 L460.3,189.5 L460.9,189.5 L461.5,189.6 L462.1,189.6 L462.6,189.7 L463.2,189.7 L463.8,189.8 L464.4,189.8 L465.0,189.9 L465.5,189.9 L466.1,189.9 L466.7,190.0 L467.3,190.0 L467.9,190.0 L468.4,190.0 L469.0,190.0 L469.6,190.1 L470.2,190.1 L470.8,190.1 L471.4,190.1 L471.9,190.1 L472.5,190.1 L473.1,190.1 L473.7,190.1 L474.3,190.1 L474.8,190.1 L475.4,190.1 L476.0,190.1 L476.6,190.1 L477.2,190.1 L477.8,190.1 L478.3,190.0 L478.9,190.0 L479.5,190.0 L480.1,189.9 L480.7,189.9 L481.2,189.8 L481.8,189.7 L482.4,189.6 L483.0,189.5 L483.6,189.4 L484.1,189.2 L484.7,189.1 L485.3,189.0 L485.9,188.9 L486.5,188.7 L487.0,188.5 L487.6,188.3 L488.2,188.0 L488.8,187.9 L489.4,187.7 L490.0,187.6 L490.5,187.5 L491.1,187.4 L491.7,187.4 L492.3,187.4 L492.9,187.5 L493.4,187.6 L494.0,187.7 L494.6,187.8 L495.2,187.9 L495.8,188.0 L496.4,188.1 L496.9,188.2 L497.5,188.4 L498.1,188.5 L498.7,188.6 L499.3,188.7 L499.8,188.8 L500.4,188.9 L501.0,189.0 L501.6,189.1 L502.2,189.2 L502.7,189.2 L503.3,189.3 L503.9,189.4 L504.5,189.4 L505.1,189.5 L505.6,189.5 L506.2,189.5 L506.8,189.5 L507.4,189.6 L508.0,189.6 L508.6,189.6 L509.1,189.6 L509.7,189.6 L510.3,189.6 L510.9,189.6 L511.5,189.6 L512.0,189.6 L512.6,189.6 L513.2,189.6 L513.8,189.6 L514.4,189.6 L515.0,189.6 L515.5,189.6 L516.1,189.6 L516.7,189.6 L517.3,189.6 L517.9,189.6 L518.4,189.6 L519.0,189.6 L519.6,189.7 L520.2,189.7 L520.8,189.7 L521.3,189.7 L521.9,189.8 L522.5,189.8 L523.1,189.8 L523.7,189.9 L524.2,189.9 L524.8,189.9 L525.4,189.9 L526.0,190.0 L526.6,190.0 L527.2,190.0 L527.7,190.1 L528.3,190.1 L528.9,190.1 L529.5,190.1 L530.1,190.1 L530.6,190.1 L531.2,190.2 L531.8,190.2 L532.4,190.2 L533.0,190.2 L533.5,190.2 L534.1,190.2 L534.7,190.2 L535.3,190.3 L535.9,190.3 L536.5,190.3 L537.0,190.3 L537.6,190.3 L538.2,190.3 L538.8,190.4 L539.4,190.4 L539.9,190.4 L540.5,190.5 L541.1,190.5 L541.7,190.6 L542.3,190.7 L542.9,190.7 L543.4,190.8 L544.0,190.9 L544.6,190.9 L545.2,191.0 L545.8,191.1 L546.3,191.1 L546.9,191.1 L547.5,191.1 L548.1,191.1 L548.7,191.1 L549.2,191.0 L549.8,191.0 L550.4,190.9 L551.0,190.8 L551.6,190.8 L552.1,190.7 L552.7,190.6 L553.3,190.6 L553.9,190.5 L554.5,190.5 L555.1,190.4 L555.6,190.4 L556.2,190.3 L556.8,190.3 L557.4,190.2 L558.0,190.2 L558.5,190.1 L559.1,190.1 L559.7,190.0 L560.3,189.9 L560.9,189.8 L561.5,189.7 L562.0,189.6 L562.6,189.5 L563.2,189.4 L563.8,189.3 L564.4,189.2 L564.9,189.2 L565.5,189.2 L566.1,189.1 L566.7,189.2 L567.3,189.2 L567.8,189.2 L568.4,189.3 L569.0,189.4 L569.6,189.5 L570.2,189.6 L570.8,189.7 L571.3,189.8 L571.9,189.9 L572.5,190.0 L573.1,190.1 L573.7,190.1 L574.2,190.2 L574.8,190.2 L575.4,190.3 L576.0,190.3 L576.6,190.4 L577.1,190.4 L577.7,190.4 L578.3,190.4 L578.9,190.4 L579.5,190.4 L580.0,190.4 L580.6,190.4 L581.2,190.4 L581.8,190.4 L582.4,190.4 L583.0,190.4 L583.5,190.4 L584.1,190.4 L584.7,190.4" fill="none" stroke="#10107a" stroke-width="1.12" stroke-linejoin="round"/>
<path d="M352.2,190.4 L352.8,190.4 L353.4,190.4 L353.9,190.4 L354.5,190.4 L355.1,190.4 L355.7,190.4 L356.3,190.4 L356.8,190.4 L357.4,190.4 L358.0,190.4 L358.6,190.4 L359.2,190.4 L359.8,190.4 L360.3,190.4 L360.9,190.4 L361.5,190.4 L362.1,190.4 L362.7,190.4 L363.2,190.4 L363.8,190.4 L364.4,190.4 L365.0,190.4 L365.6,190.4 L366.1,190.4 L366.7,190.4 L367.3,190.4 L367.9,190.4 L368.5,190.4 L369.1,190.4 L369.6,190.4 L370.2,190.4 L370.8,190.4 L371.4,190.4 L372.0,190.4 L372.5,190.4 L373.1,190.4 L373.7,190.4 L374.3,190.4 L374.9,190.4 L375.4,190.4 L376.0,190.4 L376.6,190.4 L377.2,190.4 L377.8,190.4 L378.4,190.4 L378.9,190.4 L379.5,190.4 L380.1,190.4 L380.7,190.4 L381.3,190.4 L381.8,190.4 L382.4,190.4 L383.0,190.4 L383.6,190.4 L384.2,190.4 L384.8,190.4 L385.3,190.1 L385.9,189.3 L386.5,187.8 L387.1,186.7 L387.7,187.2 L388.2,188.7 L388.8,189.9 L389.4,190.3 L390.0,190.4 L390.6,190.4 L391.1,190.4 L391.7,190.4 L392.3,190.3 L392.9,190.0 L393.5,189.6 L394.1,188.6 L394.6,186.4 L395.2,183.4 L395.8,179.6 L396.4,174.9 L397.0,168.8 L397.5,162.1 L398.1,154.7 L398.7,147.2 L399.3,139.5 L399.9,131.9 L400.4,124.8 L401.0,118.2 L401.6,112.2 L402.2,106.9 L402.8,102.1 L403.3,97.5 L403.9,94.4 L404.5,92.1 L405.1,91.3 L405.7,92.0 L406.3,93.2 L406.8,94.6 L407.4,96.5 L408.0,98.5 L408.6,100.5 L409.2,102.6 L409.7,104.7 L410.3,107.0 L410.9,109.4 L411.5,111.9 L412.1,114.3 L412.6,116.6 L413.2,119.0 L413.8,121.4 L414.4,123.8 L415.0,126.4 L415.6,129.1 L416.1,131.9 L416.7,134.7 L417.3,137.5 L417.9,140.3 L418.5,143.0 L419.0,145.7 L419.6,148.4 L420.2,151.1 L420.8,153.8 L421.4,156.4 L421.9,158.9 L422.5,161.3 L423.1,163.6 L423.7,165.7 L424.3,167.8 L424.9,169.8 L425.4,171.7 L426.0,173.5 L426.6,175.2 L427.2,176.7 L427.8,178.0 L428.3,179.3 L428.9,180.4 L429.5,181.3 L430.1,182.2 L430.7,182.9 L431.2,183.5 L431.8,184.0 L432.4,184.4 L433.0,184.7 L433.6,185.0 L434.2,185.0 L434.7,185.0 L435.3,184.9 L435.9,184.9 L436.5,184.9 L437.1,185.0 L437.6,185.0 L438.2,185.0 L438.8,185.2 L439.4,185.4 L440.0,185.7 L440.6,186.0 L441.1,186.2 L441.7,186.5 L442.3,186.8 L442.9,187.0 L443.5,187.3 L444.0,187.4 L444.6,187.6 L445.2,187.7 L445.8,187.8 L446.4,187.9 L446.9,188.0 L447.5,188.1 L448.1,188.2 L448.7,188.3 L449.3,188.4 L449.9,188.5 L450.4,188.5 L451.0,188.6 L451.6,188.6 L452.2,188.7 L452.8,188.8 L453.3,188.8 L453.9,188.9 L454.5,188.9 L455.1,189.0 L455.7,189.1 L456.2,189.1 L456.8,189.2 L457.4,189.2 L458.0,189.3 L458.6,189.4 L459.1,189.4 L459.7,189.5 L460.3,189.5 L460.9,189.6 L461.5,189.6 L462.1,189.7 L462.6,189.7 L463.2,189.7 L463.8,189.8 L464.4,189.8 L465.0,189.9 L465.5,189.9 L466.1,189.9 L466.7,190.0 L467.3,190.0 L467.9,190.0 L468.4,190.0 L469.0,190.1 L469.6,190.1 L470.2,190.1 L470.8,190.1 L471.4,190.1 L471.9,190.1 L472.5,190.1 L473.1,190.1 L473.7,190.1 L474.3,190.1 L474.8,190.2 L475.4,190.2 L476.0,190.2 L476.6,190.2 L477.2,190.2 L477.8,190.2 L478.3,190.1 L478.9,190.1 L479.5,190.1 L480.1,190.1 L480.7,190.1 L481.2,190.0 L481.8,190.0 L482.4,189.9 L483.0,189.9 L483.6,189.8 L484.1,189.8 L484.7,189.7 L485.3,189.7 L485.9,189.6 L486.5,189.5 L487.0,189.4 L487.6,189.3 L488.2,189.2 L488.8,189.1 L489.4,189.0 L490.0,189.0 L490.5,188.9 L491.1,188.9 L491.7,188.9 L492.3,188.9 L492.9,188.9 L493.4,189.0 L494.0,189.0 L494.6,189.1 L495.2,189.1 L495.8,189.2 L496.4,189.2 L496.9,189.3 L497.5,189.4 L498.1,189.4 L498.7,189.5 L499.3,189.5 L499.8,189.6 L500.4,189.6 L501.0,189.7 L501.6,189.7 L502.2,189.8 L502.7,189.8 L503.3,189.8 L503.9,189.9 L504.5,189.9 L505.1,189.9 L505.6,189.9 L506.2,189.9 L506.8,190.0 L507.4,190.0 L508.0,190.0 L508.6,190.0 L509.1,190.0 L509.7,190.0 L510.3,190.0 L510.9,190.0 L511.5,190.0 L512.0,190.0 L512.6,190.0 L513.2,190.0 L513.8,190.0 L514.4,190.0 L515.0,190.0 L515.5,190.0 L516.1,190.0 L516.7,190.0 L517.3,190.0 L517.9,190.0 L518.4,190.0 L519.0,190.0 L519.6,190.0 L520.2,190.0 L520.8,190.1 L521.3,190.1 L521.9,190.1 L522.5,190.1 L523.1,190.1 L523.7,190.1 L524.2,190.1 L524.8,190.2 L525.4,190.2 L526.0,190.2 L526.6,190.2 L527.2,190.2 L527.7,190.2 L528.3,190.2 L528.9,190.3 L529.5,190.3 L530.1,190.3 L530.6,190.3 L531.2,190.3 L531.8,190.3 L532.4,190.3 L533.0,190.3 L533.5,190.3 L534.1,190.3 L534.7,190.3 L535.3,190.3 L535.9,190.4 L536.5,190.4 L537.0,190.4 L537.6,190.4 L538.2,190.4 L538.8,190.4 L539.4,190.5 L539.9,190.5 L540.5,190.5 L541.1,190.6 L541.7,190.6 L542.3,190.7 L542.9,190.8 L543.4,190.8 L544.0,190.9 L544.6,191.0 L545.2,191.0 L545.8,191.1 L546.3,191.1 L546.9,191.1 L547.5,191.1 L548.1,191.1 L548.7,191.1 L549.2,191.0 L549.8,191.0 L550.4,190.9 L551.0,190.8 L551.6,190.8 L552.1,190.7 L552.7,190.7 L553.3,190.6 L553.9,190.5 L554.5,190.5 L555.1,190.4 L555.6,190.4 L556.2,190.4 L556.8,190.3 L557.4,190.3 L558.0,190.2 L558.5,190.1 L559.1,190.1 L559.7,190.0 L560.3,189.9 L560.9,189.8 L561.5,189.7 L562.0,189.6 L562.6,189.5 L563.2,189.4 L563.8,189.3 L564.4,189.2 L564.9,189.2 L565.5,189.2 L566.1,189.2 L566.7,189.2 L567.3,189.2 L567.8,189.3 L568.4,189.3 L569.0,189.4 L569.6,189.5 L570.2,189.6 L570.8,189.7 L571.3,189.8 L571.9,189.9 L572.5,190.0 L573.1,190.1 L573.7,190.1 L574.2,190.2 L574.8,190.3 L575.4,190.3 L576.0,190.3 L576.6,190.4 L577.1,190.4 L577.7,190.4 L578.3,190.4 L578.9,190.4 L579.5,190.4 L580.0,190.4 L580.6,190.4 L581.2,190.4 L581.8,190.4 L582.4,190.4 L583.0,190.4 L583.5,190.4 L584.1,190.4 L584.7,190.4" fill="none" stroke="#9524f5" stroke-width="1.12" stroke-linejoin="round"/>
<line x1="492.6" y1="136.5" x2="492.6" y2="114.8" stroke="#000" stroke-width="1.7"/>
<polygon points="492.6,109.3 489.90000000000003,115.8 495.3,115.8" fill="#000"/>
<line x1="515.6" y1="172.6" x2="515.6" y2="165.0" stroke="#000" stroke-width="1.7"/>
<polygon points="515.6,159.5 512.9,166.0 518.3000000000001,166.0" fill="#000"/>
<text x="507.8" y="120.4" font-size="15.2" fill="#1c76c6">O<tspan font-size="10" dy="3.2">2</tspan></text>
<line x1="527.1" y1="105.8" x2="527.1" y2="122.7" stroke="#1c76c6" stroke-width="1.7"/>
<polygon points="527.1,127.2 524.6,121.7 529.6,121.7" fill="#1c76c6"/>
<text x="537.6" y="120.4" font-size="15.2" fill="#111">N<tspan font-size="10" dy="3.2">2</tspan></text>
<line x1="555.5" y1="128" x2="555.5" y2="111.3" stroke="#000" stroke-width="1.3"/>
<polygon points="555.5,106.3 553.1,112.3 557.9,112.3" fill="#000"/>
<text x="291.4" y="20.9" font-size="22.7" fill="#111">(b)</text>
<line x1="55.2" y1="261.09999999999997" x2="55.2" y2="433.1" stroke="#585858" stroke-width="1.3"/>
<line x1="54.5" y1="432.5" x2="288.20000000000005" y2="432.5" stroke="#7c7c7c" stroke-width="1.1"/>
<line x1="51.0" y1="430.5" x2="55.2" y2="430.5" stroke="#585858" stroke-width="1"/>
<line x1="51.0" y1="388.29" x2="55.2" y2="388.29" stroke="#585858" stroke-width="1"/>
<line x1="51.0" y1="346.08" x2="55.2" y2="346.08" stroke="#585858" stroke-width="1"/>
<line x1="51.0" y1="303.87" x2="55.2" y2="303.87" stroke="#585858" stroke-width="1"/>
<line x1="51.0" y1="261.65999999999997" x2="55.2" y2="261.65999999999997" stroke="#585858" stroke-width="1"/>
<line x1="52.6" y1="409.395" x2="55.2" y2="409.395" stroke="#585858" stroke-width="1"/>
<line x1="52.6" y1="367.185" x2="55.2" y2="367.185" stroke="#585858" stroke-width="1"/>
<line x1="52.6" y1="324.975" x2="55.2" y2="324.975" stroke="#585858" stroke-width="1"/>
<line x1="52.6" y1="282.765" x2="55.2" y2="282.765" stroke="#585858" stroke-width="1"/>
<line x1="55.2" y1="432.5" x2="55.2" y2="436.1" stroke="#444" stroke-width="0.95"/>
<line x1="101.68" y1="432.5" x2="101.68" y2="436.1" stroke="#444" stroke-width="0.95"/>
<line x1="148.16" y1="432.5" x2="148.16" y2="436.1" stroke="#444" stroke-width="0.95"/>
<line x1="194.64" y1="432.5" x2="194.64" y2="436.1" stroke="#444" stroke-width="0.95"/>
<line x1="241.12" y1="432.5" x2="241.12" y2="436.1" stroke="#444" stroke-width="0.95"/>
<line x1="287.6" y1="432.5" x2="287.6" y2="436.1" stroke="#444" stroke-width="0.95"/>
<line x1="78.44" y1="432.5" x2="78.44" y2="434.6" stroke="#444" stroke-width="0.95"/>
<line x1="124.92" y1="432.5" x2="124.92" y2="434.6" stroke="#444" stroke-width="0.95"/>
<line x1="171.4" y1="432.5" x2="171.4" y2="434.6" stroke="#444" stroke-width="0.95"/>
<line x1="217.88" y1="432.5" x2="217.88" y2="434.6" stroke="#444" stroke-width="0.95"/>
<line x1="264.36" y1="432.5" x2="264.36" y2="434.6" stroke="#444" stroke-width="0.95"/>
<text x="55.2" y="450.8" font-size="15" text-anchor="middle" fill="#111">400</text>
<text x="101.68" y="450.8" font-size="15" text-anchor="middle" fill="#111">500</text>
<text x="148.16" y="450.8" font-size="15" text-anchor="middle" fill="#111">600</text>
<text x="194.64" y="450.8" font-size="15" text-anchor="middle" fill="#111">700</text>
<text x="241.12" y="450.8" font-size="15" text-anchor="middle" fill="#111">800</text>
<text x="287.6" y="450.8" font-size="15" text-anchor="middle" fill="#111">900</text>
<text x="49.4" y="435.35" font-size="15" text-anchor="end" fill="#111">0</text>
<text x="49.4" y="393.14" font-size="15" text-anchor="end" fill="#111">300</text>
<text x="49.4" y="350.93" font-size="15" text-anchor="end" fill="#111">600</text>
<text x="49.4" y="308.72" font-size="15" text-anchor="end" fill="#111">900</text>
<text x="49.4" y="266.51" font-size="15" text-anchor="end" fill="#111">1200</text>
<text x="171.5" y="464.3" font-size="15.2" text-anchor="middle" fill="#111">Wavelength (nm)</text>
<text transform="translate(22.2,347.7) rotate(-90)" font-size="14.9" text-anchor="middle" fill="#111">Emission intensity</text>
<path d="M55.2,430.4 L56.1,430.4 L57.1,430.4 L58.0,430.4 L58.9,430.4 L59.8,430.4 L60.8,430.4 L61.7,430.4 L62.6,430.4 L63.6,430.4 L64.5,430.4 L65.4,430.4 L66.4,430.4 L67.3,430.4 L68.2,430.4 L69.1,430.4 L70.1,430.4 L71.0,430.4 L71.9,430.4 L72.9,430.4 L73.8,430.4 L74.7,430.4 L75.7,430.4 L76.6,430.4 L77.5,430.4 L78.4,430.4 L79.4,430.4 L80.3,430.4 L81.2,430.4 L82.2,430.4 L83.1,430.4 L84.0,430.4 L84.9,430.4 L85.9,430.4 L86.8,430.4 L87.7,430.4 L88.7,430.4 L89.6,430.4 L90.5,430.4 L91.5,430.4 L92.4,430.4 L93.3,430.4 L94.2,430.4 L95.2,430.4 L96.1,430.4 L97.0,430.4 L98.0,430.4 L98.9,430.4 L99.8,430.4 L100.8,430.4 L101.7,430.4 L101.8,430.4 L101.9,430.4 L102.0,430.4 L102.1,430.4 L102.3,430.4 L102.4,430.4 L102.5,430.4 L102.6,430.4 L102.7,430.4 L102.8,430.4 L103.0,430.4 L103.1,430.4 L103.2,430.4 L103.3,430.4 L103.4,430.4 L103.5,430.4 L103.7,430.4 L103.8,430.4 L103.9,430.2 L104.0,429.7 L104.1,429.1 L104.2,428.2 L104.4,426.7 L104.5,424.8 L104.6,422.8 L104.7,420.6 L104.8,418.1 L104.9,415.3 L105.0,412.3 L105.2,409.0 L105.3,405.2 L105.4,400.8 L105.5,396.0 L105.6,391.2 L105.7,386.7 L105.9,382.2 L106.0,377.8 L106.1,373.4 L106.2,368.9 L106.3,364.2 L106.4,359.3 L106.6,354.3 L106.7,349.3 L106.8,344.7 L106.9,340.4 L107.0,336.3 L107.1,332.4 L107.3,328.5 L107.4,324.7 L107.5,321.0 L107.6,317.3 L107.7,313.6 L107.8,309.6 L108.0,305.0 L108.1,300.3 L108.2,295.6 L108.3,290.3 L108.4,287.6 L108.5,290.3 L108.7,295.6 L108.8,300.3 L108.9,305.0 L109.0,309.6 L109.1,313.6 L109.2,317.3 L109.3,321.0 L109.5,324.7 L109.6,328.5 L109.7,332.4 L109.8,336.3 L109.9,340.4 L110.0,344.7 L110.2,349.3 L110.3,354.3 L110.4,359.3 L110.5,364.2 L110.6,368.9 L110.7,373.4 L110.9,377.8 L111.0,382.2 L111.1,386.7 L111.2,391.2 L111.3,396.0 L111.4,400.8 L111.6,405.2 L111.7,409.0 L111.8,412.3 L111.9,415.3 L112.0,418.1 L112.1,420.6 L112.3,422.8 L112.4,424.8 L112.5,426.7 L112.6,428.2 L112.7,429.1 L112.8,429.7 L113.0,430.2 L113.1,430.4 L113.2,430.4 L113.3,430.4 L113.4,430.4 L113.5,430.4 L113.6,430.4 L113.8,430.4 L113.9,430.4 L114.0,430.4 L114.1,430.4 L114.2,430.4 L114.3,430.4 L114.5,430.4 L114.6,430.4 L114.7,430.4 L114.8,430.4 L114.9,430.4 L115.0,430.4 L115.2,430.4 L115.3,430.4 L115.4,430.4 L115.5,430.4 L115.6,430.4 L116.3,430.4 L117.0,430.4 L117.7,430.4 L118.4,430.4 L119.1,430.4 L119.8,430.4 L120.5,430.4 L121.2,430.4 L121.9,430.4 L122.6,430.4 L123.3,430.4 L124.0,430.4 L124.7,430.4 L125.4,430.4 L126.1,430.4 L126.8,430.4 L127.5,430.4 L128.2,430.4 L128.9,430.4 L129.6,430.4 L130.3,430.4 L131.0,430.4 L131.7,430.4 L132.4,430.4 L133.1,430.4 L133.8,430.4 L134.4,430.4 L135.1,430.4 L135.8,430.4 L136.5,430.4 L137.2,430.4 L137.9,430.4 L138.6,430.4 L139.3,430.4 L140.0,430.4 L140.7,430.4 L141.4,430.4 L142.1,430.4 L142.8,430.4 L143.5,430.4 L144.2,430.4 L144.9,430.3 L145.6,430.3 L146.3,430.2 L147.0,430.2 L147.7,430.1 L148.4,430.0 L149.1,429.9 L149.8,429.8 L150.5,429.6 L151.2,429.5 L151.9,429.3 L152.6,429.0 L153.3,428.7 L154.0,428.4 L154.7,427.7 L155.4,426.8 L156.1,425.7 L156.8,424.5 L157.5,423.1 L158.2,421.4 L158.9,419.6 L159.5,417.6 L160.2,415.4 L160.9,413.0 L161.6,410.2 L162.3,407.2 L163.0,404.0 L163.7,400.6 L164.4,396.8 L165.1,392.5 L165.8,387.9 L166.5,382.4 L167.2,376.0 L167.9,369.0 L168.6,361.8 L169.3,353.9 L170.0,346.1 L170.7,338.8 L171.4,331.9 L172.1,325.6 L172.8,320.3 L173.5,315.5 L174.2,312.1 L174.9,309.8 L175.6,308.2 L176.3,308.0 L177.0,309.5 L177.7,311.7 L178.4,315.4 L179.1,319.8 L179.8,324.3 L180.5,329.1 L181.2,334.4 L181.9,340.6 L182.6,347.7 L183.3,354.7 L183.9,361.3 L184.6,368.2 L185.3,374.3 L186.0,378.6 L186.7,381.8 L187.4,384.6 L188.1,386.9 L188.8,388.7 L189.5,390.2 L190.2,391.5 L190.9,392.7 L191.6,393.7 L192.3,394.7 L193.0,395.6 L193.7,396.5 L194.4,397.1 L195.1,397.6 L195.8,398.0 L196.5,398.4 L197.2,398.7 L197.9,398.8 L198.6,398.7 L199.3,398.5 L200.0,398.3 L200.7,398.1 L201.4,397.8 L202.1,397.7 L202.8,397.5 L203.5,397.3 L204.2,397.2 L204.9,397.2 L205.6,397.4 L206.3,397.9 L207.0,398.6 L207.7,399.3 L208.4,400.0 L209.0,400.8 L209.7,401.7 L210.4,402.7 L211.1,403.9 L211.8,405.0 L212.5,406.3 L213.2,407.8 L213.9,409.3 L214.6,410.8 L215.3,412.2 L216.0,413.7 L216.7,415.1 L217.4,416.4 L218.1,417.5 L218.8,418.5 L219.5,419.5 L220.2,420.3 L220.9,421.1 L221.6,421.8 L222.3,422.4 L223.0,423.0 L223.7,423.5 L224.4,424.0 L225.1,424.4 L225.8,424.8 L226.5,425.1 L227.2,425.5 L227.9,425.8 L228.6,426.1 L229.3,426.4 L230.0,426.6 L230.7,426.9 L231.4,427.1 L232.1,427.3 L232.8,427.5 L233.5,427.6 L234.1,427.8 L234.8,428.0 L235.5,428.1 L236.2,428.2 L236.9,428.3 L237.6,428.4 L238.3,428.5 L239.0,428.5 L239.7,428.6 L240.4,428.6 L241.1,428.7 L241.8,428.7 L242.5,428.8 L243.2,428.8 L243.9,428.8 L244.6,428.9 L245.3,428.9 L246.0,428.9 L246.7,429.0 L247.4,429.0 L248.1,429.0 L248.8,429.1 L249.5,429.1 L250.2,429.1 L250.9,429.2 L251.6,429.2 L252.3,429.2 L253.0,429.3 L253.7,429.3 L254.4,429.3 L255.1,429.3 L255.8,429.4 L256.5,429.4 L257.2,429.4 L257.9,429.5 L258.6,429.5 L259.2,429.5 L259.9,429.5 L260.6,429.6 L261.3,429.6 L262.0,429.6 L262.7,429.6 L263.4,429.7 L264.1,429.7 L264.8,429.7 L265.5,429.8 L266.2,429.8 L266.9,429.8" fill="none" stroke="#000000" stroke-width="1.12" stroke-linejoin="round"/>
<path d="M55.2,430.4 L56.1,430.4 L57.1,430.4 L58.0,430.4 L58.9,430.4 L59.8,430.4 L60.8,430.4 L61.7,430.4 L62.6,430.4 L63.6,430.4 L64.5,430.4 L65.4,430.4 L66.4,430.4 L67.3,430.4 L68.2,430.4 L69.1,430.4 L70.1,430.4 L71.0,430.4 L71.9,430.4 L72.9,430.4 L73.8,430.4 L74.7,430.4 L75.7,430.4 L76.6,430.4 L77.5,430.4 L78.4,430.4 L79.4,430.4 L80.3,430.4 L81.2,430.4 L82.2,430.4 L83.1,430.4 L84.0,430.4 L84.9,430.4 L85.9,430.4 L86.8,430.4 L87.7,430.4 L88.7,430.4 L89.6,430.4 L90.5,430.4 L91.5,430.4 L92.4,430.4 L93.3,430.4 L94.2,430.4 L95.2,430.4 L96.1,430.4 L97.0,430.4 L98.0,430.4 L98.9,430.4 L99.8,430.4 L100.8,430.4 L101.7,430.4 L101.8,430.4 L101.9,430.4 L102.0,430.4 L102.1,430.4 L102.3,430.4 L102.4,430.4 L102.5,430.4 L102.6,430.4 L102.7,430.4 L102.8,430.4 L103.0,430.4 L103.1,430.4 L103.2,430.4 L103.3,430.4 L103.4,430.4 L103.5,430.4 L103.7,430.4 L103.8,430.4 L103.9,430.2 L104.0,429.8 L104.1,429.3 L104.2,428.5 L104.4,427.3 L104.5,425.7 L104.6,424.0 L104.7,422.2 L104.8,420.1 L104.9,417.7 L105.0,415.1 L105.2,412.3 L105.3,409.1 L105.4,405.4 L105.5,401.4 L105.6,397.4 L105.7,393.5 L105.9,389.8 L106.0,386.1 L106.1,382.4 L106.2,378.6 L106.3,374.7 L106.4,370.5 L106.6,366.3 L106.7,362.1 L106.8,358.2 L106.9,354.6 L107.0,351.2 L107.1,347.8 L107.3,344.6 L107.4,341.3 L107.5,338.2 L107.6,335.2 L107.7,332.0 L107.8,328.6 L108.0,324.8 L108.1,320.8 L108.2,316.9 L108.3,312.4 L108.4,310.1 L108.5,312.4 L108.7,316.9 L108.8,320.8 L108.9,324.8 L109.0,328.6 L109.1,332.0 L109.2,335.2 L109.3,338.2 L109.5,341.3 L109.6,344.6 L109.7,347.8 L109.8,351.2 L109.9,354.6 L110.0,358.2 L110.2,362.1 L110.3,366.3 L110.4,370.5 L110.5,374.7 L110.6,378.6 L110.7,382.4 L110.9,386.1 L111.0,389.8 L111.1,393.5 L111.2,397.4 L111.3,401.4 L111.4,405.4 L111.6,409.1 L111.7,412.3 L111.8,415.1 L111.9,417.7 L112.0,420.1 L112.1,422.2 L112.3,424.0 L112.4,425.7 L112.5,427.3 L112.6,428.5 L112.7,429.3 L112.8,429.8 L113.0,430.2 L113.1,430.4 L113.2,430.4 L113.3,430.4 L113.4,430.4 L113.5,430.4 L113.6,430.4 L113.8,430.4 L113.9,430.4 L114.0,430.4 L114.1,430.4 L114.2,430.4 L114.3,430.4 L114.5,430.4 L114.6,430.4 L114.7,430.4 L114.8,430.4 L114.9,430.4 L115.0,430.4 L115.2,430.4 L115.3,430.4 L115.4,430.4 L115.5,430.4 L115.6,430.4 L116.3,430.4 L117.0,430.4 L117.7,430.4 L118.4,430.4 L119.1,430.4 L119.8,430.4 L120.5,430.4 L121.2,430.4 L121.9,430.4 L122.6,430.4 L123.3,430.4 L124.0,430.4 L124.7,430.4 L125.4,430.4 L126.1,430.4 L126.8,430.4 L127.5,430.4 L128.2,430.4 L128.9,430.4 L129.6,430.4 L130.3,430.4 L131.0,430.4 L131.7,430.4 L132.4,430.4 L133.1,430.4 L133.8,430.4 L134.4,430.4 L135.1,430.4 L135.8,430.4 L136.5,430.4 L137.2,430.4 L137.9,430.4 L138.6,430.4 L139.3,430.4 L140.0,430.4 L140.7,430.4 L141.4,430.4 L142.1,430.4 L142.8,430.4 L143.5,430.4 L144.2,430.4 L144.9,430.4 L145.6,430.3 L146.3,430.3 L147.0,430.2 L147.7,430.1 L148.4,430.1 L149.1,430.0 L149.8,429.9 L150.5,429.8 L151.2,429.6 L151.9,429.5 L152.6,429.3 L153.3,429.0 L154.0,428.8 L154.7,428.2 L155.4,427.4 L156.1,426.5 L156.8,425.6 L157.5,424.4 L158.2,423.1 L158.9,421.6 L159.5,420.0 L160.2,418.2 L160.9,416.2 L161.6,414.0 L162.3,411.6 L163.0,408.9 L163.7,406.1 L164.4,403.0 L165.1,399.6 L165.8,395.8 L166.5,391.3 L167.2,386.1 L167.9,380.4 L168.6,374.5 L169.3,368.2 L170.0,361.8 L170.7,355.8 L171.4,350.2 L172.1,345.1 L172.8,340.8 L173.5,336.9 L174.2,334.1 L174.9,332.2 L175.6,330.9 L176.3,330.8 L177.0,332.0 L177.7,333.8 L178.4,336.8 L179.1,340.4 L179.8,344.0 L180.5,347.9 L181.2,352.3 L181.9,357.3 L182.6,363.0 L183.3,368.7 L183.9,374.2 L184.6,379.8 L185.3,384.7 L186.0,388.2 L186.7,390.9 L187.4,393.1 L188.1,395.0 L188.8,396.4 L189.5,397.7 L190.2,398.7 L190.9,399.7 L191.6,400.5 L192.3,401.3 L193.0,402.1 L193.7,402.8 L194.4,403.3 L195.1,403.7 L195.8,404.0 L196.5,404.3 L197.2,404.6 L197.9,404.6 L198.6,404.6 L199.3,404.5 L200.0,404.3 L200.7,404.1 L201.4,403.9 L202.1,403.8 L202.8,403.6 L203.5,403.5 L204.2,403.4 L204.9,403.4 L205.6,403.5 L206.3,403.9 L207.0,404.5 L207.7,405.1 L208.4,405.6 L209.0,406.3 L209.7,407.1 L210.4,407.9 L211.1,408.8 L211.8,409.7 L212.5,410.8 L213.2,412.0 L213.9,413.2 L214.6,414.4 L215.3,415.6 L216.0,416.8 L216.7,418.0 L217.4,419.0 L218.1,419.9 L218.8,420.7 L219.5,421.5 L220.2,422.2 L220.9,422.8 L221.6,423.4 L222.3,423.9 L223.0,424.4 L223.7,424.8 L224.4,425.2 L225.1,425.5 L225.8,425.8 L226.5,426.1 L227.2,426.4 L227.9,426.7 L228.6,426.9 L229.3,427.1 L230.0,427.3 L230.7,427.5 L231.4,427.7 L232.1,427.9 L232.8,428.0 L233.5,428.2 L234.1,428.3 L234.8,428.4 L235.5,428.5 L236.2,428.6 L236.9,428.7 L237.6,428.8 L238.3,428.8 L239.0,428.9 L239.7,428.9 L240.4,429.0 L241.1,429.0 L241.8,429.0 L242.5,429.1 L243.2,429.1 L243.9,429.1 L244.6,429.2 L245.3,429.2 L246.0,429.2 L246.7,429.2 L247.4,429.3 L248.1,429.3 L248.8,429.3 L249.5,429.3 L250.2,429.4 L250.9,429.4 L251.6,429.4 L252.3,429.4 L253.0,429.5 L253.7,429.5 L254.4,429.5 L255.1,429.5 L255.8,429.6 L256.5,429.6 L257.2,429.6 L257.9,429.6 L258.6,429.7 L259.2,429.7 L259.9,429.7 L260.6,429.7 L261.3,429.7 L262.0,429.8 L262.7,429.8 L263.4,429.8 L264.1,429.8 L264.8,429.9 L265.5,429.9 L266.2,429.9 L266.9,429.9" fill="none" stroke="#ff1a28" stroke-width="1.12" stroke-linejoin="round"/>
<path d="M55.2,430.4 L56.1,430.4 L57.1,430.4 L58.0,430.4 L58.9,430.4 L59.8,430.4 L60.8,430.4 L61.7,430.4 L62.6,430.4 L63.6,430.4 L64.5,430.4 L65.4,430.4 L66.4,430.4 L67.3,430.4 L68.2,430.4 L69.1,430.4 L70.1,430.4 L71.0,430.4 L71.9,430.4 L72.9,430.4 L73.8,430.4 L74.7,430.4 L75.7,430.4 L76.6,430.4 L77.5,430.4 L78.4,430.4 L79.4,430.4 L80.3,430.4 L81.2,430.4 L82.2,430.4 L83.1,430.4 L84.0,430.4 L84.9,430.4 L85.9,430.4 L86.8,430.4 L87.7,430.4 L88.7,430.4 L89.6,430.4 L90.5,430.4 L91.5,430.4 L92.4,430.4 L93.3,430.4 L94.2,430.4 L95.2,430.4 L96.1,430.4 L97.0,430.4 L98.0,430.4 L98.9,430.4 L99.8,430.4 L100.8,430.4 L101.7,430.4 L101.8,430.4 L101.9,430.4 L102.0,430.4 L102.1,430.4 L102.3,430.4 L102.4,430.4 L102.5,430.4 L102.6,430.4 L102.7,430.4 L102.8,430.4 L103.0,430.4 L103.1,430.4 L103.2,430.4 L103.3,430.4 L103.4,430.4 L103.5,430.4 L103.7,430.4 L103.8,430.4 L103.9,430.3 L104.0,430.0 L104.1,429.6 L104.2,429.0 L104.4,428.1 L104.5,426.9 L104.6,425.6 L104.7,424.2 L104.8,422.7 L104.9,420.9 L105.0,419.0 L105.2,416.9 L105.3,414.5 L105.4,411.7 L105.5,408.7 L105.6,405.7 L105.7,402.8 L105.9,400.0 L106.0,397.3 L106.1,394.5 L106.2,391.6 L106.3,388.7 L106.4,385.6 L106.6,382.4 L106.7,379.3 L106.8,376.4 L106.9,373.7 L107.0,371.1 L107.1,368.6 L107.3,366.2 L107.4,363.7 L107.5,361.4 L107.6,359.1 L107.7,356.8 L107.8,354.2 L108.0,351.3 L108.1,348.4 L108.2,345.4 L108.3,342.0 L108.4,340.3 L108.5,342.0 L108.7,345.4 L108.8,348.4 L108.9,351.3 L109.0,354.2 L109.1,356.8 L109.2,359.1 L109.3,361.4 L109.5,363.7 L109.6,366.2 L109.7,368.6 L109.8,371.1 L109.9,373.7 L110.0,376.4 L110.2,379.3 L110.3,382.4 L110.4,385.6 L110.5,388.7 L110.6,391.6 L110.7,394.5 L110.9,397.3 L111.0,400.0 L111.1,402.8 L111.2,405.7 L111.3,408.7 L111.4,411.7 L111.6,414.5 L111.7,416.9 L111.8,419.0 L111.9,420.9 L112.0,422.7 L112.1,424.2 L112.3,425.6 L112.4,426.9 L112.5,428.1 L112.6,429.0 L112.7,429.6 L112.8,430.0 L113.0,430.3 L113.1,430.4 L113.2,430.4 L113.3,430.4 L113.4,430.4 L113.5,430.4 L113.6,430.4 L113.8,430.4 L113.9,430.4 L114.0,430.4 L114.1,430.4 L114.2,430.4 L114.3,430.4 L114.5,430.4 L114.6,430.4 L114.7,430.4 L114.8,430.4 L114.9,430.4 L115.0,430.4 L115.2,430.4 L115.3,430.4 L115.4,430.4 L115.5,430.4 L115.6,430.4 L116.3,430.4 L117.0,430.4 L117.7,430.4 L118.4,430.4 L119.1,430.4 L119.8,430.4 L120.5,430.4 L121.2,430.4 L121.9,430.4 L122.6,430.4 L123.3,430.4 L124.0,430.4 L124.7,430.4 L125.4,430.4 L126.1,430.4 L126.8,430.4 L127.5,430.4 L128.2,430.4 L128.9,430.4 L129.6,430.4 L130.3,430.4 L131.0,430.4 L131.7,430.4 L132.4,430.4 L133.1,430.4 L133.8,430.4 L134.4,430.4 L135.1,430.4 L135.8,430.4 L136.5,430.4 L137.2,430.4 L137.9,430.4 L138.6,430.4 L139.3,430.4 L140.0,430.4 L140.7,430.4 L141.4,430.4 L142.1,430.4 L142.8,430.4 L143.5,430.4 L144.2,430.4 L144.9,430.4 L145.6,430.3 L146.3,430.3 L147.0,430.2 L147.7,430.2 L148.4,430.2 L149.1,430.1 L149.8,430.0 L150.5,429.9 L151.2,429.8 L151.9,429.7 L152.6,429.6 L153.3,429.4 L154.0,429.2 L154.7,428.8 L155.4,428.2 L156.1,427.6 L156.8,426.9 L157.5,426.0 L158.2,425.1 L158.9,424.0 L159.5,422.8 L160.2,421.5 L160.9,420.0 L161.6,418.4 L162.3,416.6 L163.0,414.7 L163.7,412.6 L164.4,410.4 L165.1,407.8 L165.8,405.0 L166.5,401.8 L167.2,398.0 L167.9,393.8 L168.6,389.5 L169.3,384.8 L170.0,380.1 L170.7,375.8 L171.4,371.7 L172.1,367.9 L172.8,364.8 L173.5,361.9 L174.2,359.9 L174.9,358.5 L175.6,357.6 L176.3,357.5 L177.0,358.4 L177.7,359.7 L178.4,361.8 L179.1,364.5 L179.8,367.2 L180.5,370.0 L181.2,373.2 L181.9,376.9 L182.6,381.1 L183.3,385.3 L183.9,389.2 L184.6,393.3 L185.3,396.9 L186.0,399.5 L186.7,401.5 L187.4,403.1 L188.1,404.4 L188.8,405.5 L189.5,406.4 L190.2,407.2 L190.9,407.9 L191.6,408.5 L192.3,409.1 L193.0,409.7 L193.7,410.2 L194.4,410.6 L195.1,410.9 L195.8,411.1 L196.5,411.3 L197.2,411.5 L197.9,411.5 L198.6,411.5 L199.3,411.4 L200.0,411.3 L200.7,411.1 L201.4,411.0 L202.1,410.9 L202.8,410.8 L203.5,410.7 L204.2,410.6 L204.9,410.6 L205.6,410.7 L206.3,411.0 L207.0,411.4 L207.7,411.9 L208.4,412.3 L209.0,412.8 L209.7,413.3 L210.4,413.9 L211.1,414.6 L211.8,415.3 L212.5,416.1 L213.2,416.9 L213.9,417.8 L214.6,418.7 L215.3,419.6 L216.0,420.4 L216.7,421.3 L217.4,422.1 L218.1,422.7 L218.8,423.3 L219.5,423.9 L220.2,424.4 L220.9,424.9 L221.6,425.3 L222.3,425.6 L223.0,426.0 L223.7,426.3 L224.4,426.6 L225.1,426.8 L225.8,427.0 L226.5,427.3 L227.2,427.5 L227.9,427.7 L228.6,427.8 L229.3,428.0 L230.0,428.2 L230.7,428.3 L231.4,428.4 L232.1,428.5 L232.8,428.6 L233.5,428.8 L234.1,428.9 L234.8,428.9 L235.5,429.0 L236.2,429.1 L236.9,429.2 L237.6,429.2 L238.3,429.3 L239.0,429.3 L239.7,429.3 L240.4,429.4 L241.1,429.4 L241.8,429.4 L242.5,429.4 L243.2,429.4 L243.9,429.5 L244.6,429.5 L245.3,429.5 L246.0,429.5 L246.7,429.5 L247.4,429.6 L248.1,429.6 L248.8,429.6 L249.5,429.6 L250.2,429.6 L250.9,429.7 L251.6,429.7 L252.3,429.7 L253.0,429.7 L253.7,429.7 L254.4,429.8 L255.1,429.8 L255.8,429.8 L256.5,429.8 L257.2,429.8 L257.9,429.8 L258.6,429.8 L259.2,429.9 L259.9,429.9 L260.6,429.9 L261.3,429.9 L262.0,429.9 L262.7,429.9 L263.4,430.0 L264.1,430.0 L264.8,430.0 L265.5,430.0 L266.2,430.0 L266.9,430.0" fill="none" stroke="#1fd03a" stroke-width="1.12" stroke-linejoin="round"/>
<path d="M55.2,430.4 L56.1,430.4 L57.1,430.4 L58.0,430.4 L58.9,430.4 L59.8,430.4 L60.8,430.4 L61.7,430.4 L62.6,430.4 L63.6,430.4 L64.5,430.4 L65.4,430.4 L66.4,430.4 L67.3,430.4 L68.2,430.4 L69.1,430.4 L70.1,430.4 L71.0,430.4 L71.9,430.4 L72.9,430.4 L73.8,430.4 L74.7,430.4 L75.7,430.4 L76.6,430.4 L77.5,430.4 L78.4,430.4 L79.4,430.4 L80.3,430.4 L81.2,430.4 L82.2,430.4 L83.1,430.4 L84.0,430.4 L84.9,430.4 L85.9,430.4 L86.8,430.4 L87.7,430.4 L88.7,430.4 L89.6,430.4 L90.5,430.4 L91.5,430.4 L92.4,430.4 L93.3,430.4 L94.2,430.4 L95.2,430.4 L96.1,430.4 L97.0,430.4 L98.0,430.4 L98.9,430.4 L99.8,430.4 L100.8,430.4 L101.7,430.4 L101.8,430.4 L101.9,430.4 L102.0,430.4 L102.1,430.4 L102.3,430.4 L102.4,430.4 L102.5,430.4 L102.6,430.4 L102.7,430.4 L102.8,430.4 L103.0,430.4 L103.1,430.4 L103.2,430.4 L103.3,430.4 L103.4,430.4 L103.5,430.4 L103.7,430.4 L103.8,430.4 L103.9,430.3 L104.0,429.9 L104.1,429.4 L104.2,428.8 L104.4,427.7 L104.5,426.3 L104.6,424.8 L104.7,423.2 L104.8,421.4 L104.9,419.3 L105.0,417.1 L105.2,414.6 L105.3,411.8 L105.4,408.6 L105.5,405.1 L105.6,401.6 L105.7,398.2 L105.9,394.9 L106.0,391.7 L106.1,388.4 L106.2,385.1 L106.3,381.7 L106.4,378.1 L106.6,374.4 L106.7,370.7 L106.8,367.3 L106.9,364.2 L107.0,361.2 L107.1,358.3 L107.3,355.4 L107.4,352.6 L107.5,349.8 L107.6,347.2 L107.7,344.4 L107.8,341.5 L108.0,338.1 L108.1,334.6 L108.2,331.2 L108.3,327.3 L108.4,325.3 L108.5,327.3 L108.7,331.2 L108.8,334.6 L108.9,338.1 L109.0,341.5 L109.1,344.4 L109.2,347.2 L109.3,349.8 L109.5,352.6 L109.6,355.4 L109.7,358.3 L109.8,361.2 L109.9,364.2 L110.0,367.3 L110.2,370.7 L110.3,374.4 L110.4,378.1 L110.5,381.7 L110.6,385.1 L110.7,388.4 L110.9,391.7 L111.0,394.9 L111.1,398.2 L111.2,401.6 L111.3,405.1 L111.4,408.6 L111.6,411.8 L111.7,414.6 L111.8,417.1 L111.9,419.3 L112.0,421.4 L112.1,423.2 L112.3,424.8 L112.4,426.3 L112.5,427.7 L112.6,428.8 L112.7,429.4 L112.8,429.9 L113.0,430.3 L113.1,430.4 L113.2,430.4 L113.3,430.4 L113.4,430.4 L113.5,430.4 L113.6,430.4 L113.8,430.4 L113.9,430.4 L114.0,430.4 L114.1,430.4 L114.2,430.4 L114.3,430.4 L114.5,430.4 L114.6,430.4 L114.7,430.4 L114.8,430.4 L114.9,430.4 L115.0,430.4 L115.2,430.4 L115.3,430.4 L115.4,430.4 L115.5,430.4 L115.6,430.4 L116.3,430.4 L117.0,430.4 L117.7,430.4 L118.4,430.4 L119.1,430.4 L119.8,430.4 L120.5,430.4 L121.2,430.4 L121.9,430.4 L122.6,430.4 L123.3,430.4 L124.0,430.4 L124.7,430.4 L125.4,430.4 L126.1,430.4 L126.8,430.4 L127.5,430.4 L128.2,430.4 L128.9,430.4 L129.6,430.4 L130.3,430.4 L131.0,430.4 L131.7,430.4 L132.4,430.4 L133.1,430.4 L133.8,430.4 L134.4,430.4 L135.1,430.4 L135.8,430.4 L136.5,430.4 L137.2,430.4 L137.9,430.4 L138.6,430.4 L139.3,430.4 L140.0,430.4 L140.7,430.4 L141.4,430.4 L142.1,430.4 L142.8,430.4 L143.5,430.4 L144.2,430.4 L144.9,430.4 L145.6,430.4 L146.3,430.4 L147.0,430.4 L147.7,430.3 L148.4,430.3 L149.1,430.3 L149.8,430.3 L150.5,430.3 L151.2,430.3 L151.9,430.2 L152.6,430.2 L153.3,430.2 L154.0,430.1 L154.7,430.0 L155.4,429.9 L156.1,429.8 L156.8,429.6 L157.5,429.4 L158.2,429.2 L158.9,429.0 L159.5,428.7 L160.2,428.4 L160.9,428.1 L161.6,427.8 L162.3,427.4 L163.0,427.0 L163.7,426.5 L164.4,426.0 L165.1,425.5 L165.8,424.9 L166.5,424.2 L167.2,423.3 L167.9,422.4 L168.6,421.5 L169.3,420.5 L170.0,419.4 L170.7,418.5 L171.4,417.6 L172.1,416.8 L172.8,416.1 L173.5,415.5 L174.2,415.0 L174.9,414.7 L175.6,414.5 L176.3,414.5 L177.0,414.7 L177.7,415.0 L178.4,415.5 L179.1,416.0 L179.8,416.6 L180.5,417.2 L181.2,417.9 L181.9,418.7 L182.6,419.7 L183.3,420.6 L183.9,421.4 L184.6,422.3 L185.3,423.1 L186.0,423.7 L186.7,424.1 L187.4,424.4 L188.1,424.7 L188.8,425.0 L189.5,425.2 L190.2,425.3 L190.9,425.5 L191.6,425.6 L192.3,425.8 L193.0,425.9 L193.7,426.0 L194.4,426.1 L195.1,426.1 L195.8,426.2 L196.5,426.2 L197.2,426.3 L197.9,426.3 L198.6,426.3 L199.3,426.3 L200.0,426.2 L200.7,426.2 L201.4,426.2 L202.1,426.1 L202.8,426.1 L203.5,426.1 L204.2,426.1 L204.9,426.1 L205.6,426.1 L206.3,426.2 L207.0,426.3 L207.7,426.4 L208.4,426.4 L209.0,426.5 L209.7,426.7 L210.4,426.8 L211.1,426.9 L211.8,427.1 L212.5,427.3 L213.2,427.5 L213.9,427.7 L214.6,427.8 L215.3,428.0 L216.0,428.2 L216.7,428.4 L217.4,428.6 L218.1,428.7 L218.8,428.9 L219.5,429.0 L220.2,429.1 L220.9,429.2 L221.6,429.3 L222.3,429.4 L223.0,429.4 L223.7,429.5 L224.4,429.6 L225.1,429.6 L225.8,429.7 L226.5,429.7 L227.2,429.8 L227.9,429.8 L228.6,429.8 L229.3,429.9 L230.0,429.9 L230.7,429.9 L231.4,430.0 L232.1,430.0 L232.8,430.0 L233.5,430.0 L234.1,430.1 L234.8,430.1 L235.5,430.1 L236.2,430.1 L236.9,430.1 L237.6,430.1 L238.3,430.1 L239.0,430.1 L239.7,430.2 L240.4,430.2 L241.1,430.2 L241.8,430.2 L242.5,430.2 L243.2,430.2 L243.9,430.2 L244.6,430.2 L245.3,430.2 L246.0,430.2 L246.7,430.2 L247.4,430.2 L248.1,430.2 L248.8,430.2 L249.5,430.2 L250.2,430.2 L250.9,430.2 L251.6,430.2 L252.3,430.2 L253.0,430.2 L253.7,430.2 L254.4,430.2 L255.1,430.3 L255.8,430.3 L256.5,430.3 L257.2,430.3 L257.9,430.3 L258.6,430.3 L259.2,430.3 L259.9,430.3 L260.6,430.3 L261.3,430.3 L262.0,430.3 L262.7,430.3 L263.4,430.3 L264.1,430.3 L264.8,430.3 L265.5,430.3 L266.2,430.3 L266.9,430.3" fill="none" stroke="#1a1aff" stroke-width="1.12" stroke-linejoin="round"/>
<path d="M55.2,430.4 L56.1,430.4 L57.1,430.4 L58.0,430.4 L58.9,430.4 L59.8,430.4 L60.8,430.4 L61.7,430.4 L62.6,430.4 L63.6,430.4 L64.5,430.4 L65.4,430.4 L66.4,430.4 L67.3,430.4 L68.2,430.4 L69.1,430.4 L70.1,430.4 L71.0,430.4 L71.9,430.4 L72.9,430.4 L73.8,430.4 L74.7,430.4 L75.7,430.4 L76.6,430.4 L77.5,430.4 L78.4,430.4 L79.4,430.4 L80.3,430.4 L81.2,430.4 L82.2,430.4 L83.1,430.4 L84.0,430.4 L84.9,430.4 L85.9,430.4 L86.8,430.4 L87.7,430.4 L88.7,430.4 L89.6,430.4 L90.5,430.4 L91.5,430.4 L92.4,430.4 L93.3,430.4 L94.2,430.4 L95.2,430.4 L96.1,430.4 L97.0,430.4 L98.0,430.4 L98.9,430.4 L99.8,430.4 L100.8,430.4 L101.7,430.4 L101.8,430.4 L101.9,430.4 L102.0,430.4 L102.1,430.4 L102.3,430.4 L102.4,430.4 L102.5,430.4 L102.6,430.4 L102.7,430.4 L102.8,430.4 L103.0,430.4 L103.1,430.4 L103.2,430.4 L103.3,430.4 L103.4,430.4 L103.5,430.4 L103.7,430.4 L103.8,430.4 L103.9,430.3 L104.0,429.9 L104.1,429.5 L104.2,428.9 L104.4,427.9 L104.5,426.6 L104.6,425.3 L104.7,423.8 L104.8,422.1 L104.9,420.1 L105.0,418.1 L105.2,415.8 L105.3,413.2 L105.4,410.2 L105.5,407.0 L105.6,403.8 L105.7,400.7 L105.9,397.7 L106.0,394.7 L106.1,391.6 L106.2,388.6 L106.3,385.4 L106.4,382.1 L106.6,378.6 L106.7,375.3 L106.8,372.1 L106.9,369.2 L107.0,366.4 L107.1,363.8 L107.3,361.1 L107.4,358.5 L107.5,356.0 L107.6,353.5 L107.7,351.0 L107.8,348.3 L108.0,345.2 L108.1,341.9 L108.2,338.8 L108.3,335.1 L108.4,333.3 L108.5,335.1 L108.7,338.8 L108.8,341.9 L108.9,345.2 L109.0,348.3 L109.1,351.0 L109.2,353.5 L109.3,356.0 L109.5,358.5 L109.6,361.1 L109.7,363.8 L109.8,366.4 L109.9,369.2 L110.0,372.1 L110.2,375.3 L110.3,378.6 L110.4,382.1 L110.5,385.4 L110.6,388.6 L110.7,391.6 L110.9,394.7 L111.0,397.7 L111.1,400.7 L111.2,403.8 L111.3,407.0 L111.4,410.2 L111.6,413.2 L111.7,415.8 L111.8,418.1 L111.9,420.1 L112.0,422.1 L112.1,423.8 L112.3,425.3 L112.4,426.6 L112.5,427.9 L112.6,428.9 L112.7,429.5 L112.8,429.9 L113.0,430.3 L113.1,430.4 L113.2,430.4 L113.3,430.4 L113.4,430.4 L113.5,430.4 L113.6,430.4 L113.8,430.4 L113.9,430.4 L114.0,430.4 L114.1,430.4 L114.2,430.4 L114.3,430.4 L114.5,430.4 L114.6,430.4 L114.7,430.4 L114.8,430.4 L114.9,430.4 L115.0,430.4 L115.2,430.4 L115.3,430.4 L115.4,430.4 L115.5,430.4 L115.6,430.4 L116.3,430.4 L117.0,430.4 L117.7,430.4 L118.4,430.4 L119.1,430.4 L119.8,430.4 L120.5,430.4 L121.2,430.4 L121.9,430.4 L122.6,430.4 L123.3,430.4 L124.0,430.4 L124.7,430.4 L125.4,430.4 L126.1,430.4 L126.8,430.4 L127.5,430.4 L128.2,430.4 L128.9,430.4 L129.6,430.4 L130.3,430.4 L131.0,430.4 L131.7,430.4 L132.4,430.4 L133.1,430.4 L133.8,430.4 L134.4,430.4 L135.1,430.4 L135.8,430.4 L136.5,430.4 L137.2,430.4 L137.9,430.4 L138.6,430.4 L139.3,430.4 L140.0,430.4 L140.7,430.4 L141.4,430.4 L142.1,430.4 L142.8,430.4 L143.5,430.4 L144.2,430.4 L144.9,430.4 L145.6,430.4 L146.3,430.4 L147.0,430.4 L147.7,430.4 L148.4,430.4 L149.1,430.3 L149.8,430.3 L150.5,430.3 L151.2,430.3 L151.9,430.3 L152.6,430.3 L153.3,430.2 L154.0,430.2 L154.7,430.1 L155.4,430.1 L156.1,430.0 L156.8,429.9 L157.5,429.7 L158.2,429.6 L158.9,429.4 L159.5,429.2 L160.2,429.0 L160.9,428.8 L161.6,428.6 L162.3,428.3 L163.0,428.0 L163.7,427.7 L164.4,427.4 L165.1,427.0 L165.8,426.6 L166.5,426.1 L167.2,425.5 L167.9,424.9 L168.6,424.2 L169.3,423.5 L170.0,422.8 L170.7,422.2 L171.4,421.6 L172.1,421.0 L172.8,420.5 L173.5,420.1 L174.2,419.8 L174.9,419.6 L175.6,419.4 L176.3,419.4 L177.0,419.6 L177.7,419.8 L178.4,420.1 L179.1,420.5 L179.8,420.9 L180.5,421.3 L181.2,421.8 L181.9,422.4 L182.6,423.0 L183.3,423.6 L183.9,424.2 L184.6,424.8 L185.3,425.4 L186.0,425.7 L186.7,426.0 L187.4,426.3 L188.1,426.5 L188.8,426.7 L189.5,426.8 L190.2,426.9 L190.9,427.0 L191.6,427.1 L192.3,427.2 L193.0,427.3 L193.7,427.4 L194.4,427.4 L195.1,427.5 L195.8,427.5 L196.5,427.5 L197.2,427.5 L197.9,427.6 L198.6,427.6 L199.3,427.5 L200.0,427.5 L200.7,427.5 L201.4,427.5 L202.1,427.5 L202.8,427.4 L203.5,427.4 L204.2,427.4 L204.9,427.4 L205.6,427.4 L206.3,427.5 L207.0,427.5 L207.7,427.6 L208.4,427.7 L209.0,427.7 L209.7,427.8 L210.4,427.9 L211.1,428.0 L211.8,428.1 L212.5,428.2 L213.2,428.4 L213.9,428.5 L214.6,428.6 L215.3,428.8 L216.0,428.9 L216.7,429.0 L217.4,429.1 L218.1,429.2 L218.8,429.3 L219.5,429.4 L220.2,429.5 L220.9,429.6 L221.6,429.6 L222.3,429.7 L223.0,429.7 L223.7,429.8 L224.4,429.8 L225.1,429.9 L225.8,429.9 L226.5,429.9 L227.2,429.9 L227.9,430.0 L228.6,430.0 L229.3,430.0 L230.0,430.1 L230.7,430.1 L231.4,430.1 L232.1,430.1 L232.8,430.1 L233.5,430.1 L234.1,430.2 L234.8,430.2 L235.5,430.2 L236.2,430.2 L236.9,430.2 L237.6,430.2 L238.3,430.2 L239.0,430.2 L239.7,430.2 L240.4,430.2 L241.1,430.2 L241.8,430.2 L242.5,430.2 L243.2,430.2 L243.9,430.2 L244.6,430.3 L245.3,430.3 L246.0,430.3 L246.7,430.3 L247.4,430.3 L248.1,430.3 L248.8,430.3 L249.5,430.3 L250.2,430.3 L250.9,430.3 L251.6,430.3 L252.3,430.3 L253.0,430.3 L253.7,430.3 L254.4,430.3 L255.1,430.3 L255.8,430.3 L256.5,430.3 L257.2,430.3 L257.9,430.3 L258.6,430.3 L259.2,430.3 L259.9,430.3 L260.6,430.3 L261.3,430.3 L262.0,430.3 L262.7,430.3 L263.4,430.3 L264.1,430.3 L264.8,430.3 L265.5,430.3 L266.2,430.3 L266.9,430.3 L267.6,430.3 L268.3,430.3 L269.0,430.3 L269.7,430.3 L270.4,430.3 L271.1,430.3 L271.8,430.4 L272.5,430.4 L273.2,430.4 L273.9,430.4 L274.6,430.4 L275.3,430.4 L276.0,430.4 L276.7,430.4 L277.4,430.4 L278.1,430.4 L278.8,430.4 L279.5,430.4 L280.2,430.4 L280.9,430.4 L281.6,430.4 L282.3,430.4 L283.0,430.4 L283.6,430.4 L284.3,430.4 L285.0,430.4 L285.7,430.4 L286.4,430.4 L287.1,430.4" fill="none" stroke="#ff7a8a" stroke-width="1.12" stroke-linejoin="round"/>
<path d="M55.2,430.4 L56.1,430.4 L57.1,430.4 L58.0,430.4 L58.9,430.4 L59.8,430.4 L60.8,430.4 L61.7,430.4 L62.6,430.4 L63.6,430.4 L64.5,430.4 L65.4,430.4 L66.4,430.4 L67.3,430.4 L68.2,430.4 L69.1,430.4 L70.1,430.4 L71.0,430.4 L71.9,430.4 L72.9,430.4 L73.8,430.4 L74.7,430.4 L75.7,430.4 L76.6,430.4 L77.5,430.4 L78.4,430.4 L79.4,430.4 L80.3,430.4 L81.2,430.4 L82.2,430.4 L83.1,430.4 L84.0,430.4 L84.9,430.4 L85.9,430.4 L86.8,430.4 L87.7,430.4 L88.7,430.4 L89.6,430.4 L90.5,430.4 L91.5,430.4 L92.4,430.4 L93.3,430.4 L94.2,430.4 L95.2,430.4 L96.1,430.4 L97.0,430.4 L98.0,430.4 L98.9,430.4 L99.8,430.4 L100.8,430.4 L101.7,430.4 L101.8,430.4 L101.9,430.4 L102.0,430.4 L102.1,430.4 L102.3,430.4 L102.4,430.4 L102.5,430.4 L102.6,430.4 L102.7,430.4 L102.8,430.4 L103.0,430.4 L103.1,430.4 L103.2,430.4 L103.3,430.4 L103.4,430.4 L103.5,430.4 L103.7,430.4 L103.8,430.4 L103.9,430.3 L104.0,430.0 L104.1,429.6 L104.2,429.0 L104.4,428.1 L104.5,427.0 L104.6,425.8 L104.7,424.5 L104.8,423.0 L104.9,421.3 L105.0,419.4 L105.2,417.4 L105.3,415.1 L105.4,412.4 L105.5,409.6 L105.6,406.7 L105.7,403.9 L105.9,401.2 L106.0,398.5 L106.1,395.9 L106.2,393.1 L106.3,390.3 L106.4,387.3 L106.6,384.3 L106.7,381.3 L106.8,378.5 L106.9,375.9 L107.0,373.4 L107.1,371.0 L107.3,368.7 L107.4,366.3 L107.5,364.1 L107.6,361.9 L107.7,359.6 L107.8,357.2 L108.0,354.4 L108.1,351.6 L108.2,348.7 L108.3,345.5 L108.4,343.9 L108.5,345.5 L108.7,348.7 L108.8,351.6 L108.9,354.4 L109.0,357.2 L109.1,359.6 L109.2,361.9 L109.3,364.1 L109.5,366.3 L109.6,368.7 L109.7,371.0 L109.8,373.4 L109.9,375.9 L110.0,378.5 L110.2,381.3 L110.3,384.3 L110.4,387.3 L110.5,390.3 L110.6,393.1 L110.7,395.9 L110.9,398.5 L111.0,401.2 L111.1,403.9 L111.2,406.7 L111.3,409.6 L111.4,412.4 L111.6,415.1 L111.7,417.4 L111.8,419.4 L111.9,421.3 L112.0,423.0 L112.1,424.5 L112.3,425.8 L112.4,427.0 L112.5,428.1 L112.6,429.0 L112.7,429.6 L112.8,430.0 L113.0,430.3 L113.1,430.4 L113.2,430.4 L113.3,430.4 L113.4,430.4 L113.5,430.4 L113.6,430.4 L113.8,430.4 L113.9,430.4 L114.0,430.4 L114.1,430.4 L114.2,430.4 L114.3,430.4 L114.5,430.4 L114.6,430.4 L114.7,430.4 L114.8,430.4 L114.9,430.4 L115.0,430.4 L115.2,430.4 L115.3,430.4 L115.4,430.4 L115.5,430.4 L115.6,430.4 L116.3,430.4 L117.0,430.4 L117.7,430.4 L118.4,430.4 L119.1,430.4 L119.8,430.4 L120.5,430.4 L121.2,430.4 L121.9,430.4 L122.6,430.4 L123.3,430.4 L124.0,430.4 L124.7,430.4 L125.4,430.4 L126.1,430.4 L126.8,430.4 L127.5,430.4 L128.2,430.4 L128.9,430.4 L129.6,430.4 L130.3,430.4 L131.0,430.4 L131.7,430.4 L132.4,430.4 L133.1,430.4 L133.8,430.4 L134.4,430.4 L135.1,430.4 L135.8,430.4 L136.5,430.4 L137.2,430.4 L137.9,430.4 L138.6,430.4 L139.3,430.4 L140.0,430.4 L140.7,430.4 L141.4,430.4 L142.1,430.4 L142.8,430.4 L143.5,430.4 L144.2,430.4 L144.9,430.4 L145.6,430.4 L146.3,430.4 L147.0,430.4 L147.7,430.4 L148.4,430.4 L149.1,430.3 L149.8,430.3 L150.5,430.3 L151.2,430.3 L151.9,430.3 L152.6,430.3 L153.3,430.3 L154.0,430.2 L154.7,430.2 L155.4,430.1 L156.1,430.0 L156.8,429.9 L157.5,429.8 L158.2,429.7 L158.9,429.5 L159.5,429.3 L160.2,429.2 L160.9,429.0 L161.6,428.7 L162.3,428.5 L163.0,428.2 L163.7,428.0 L164.4,427.6 L165.1,427.3 L165.8,426.9 L166.5,426.5 L167.2,426.0 L167.9,425.4 L168.6,424.8 L169.3,424.2 L170.0,423.5 L170.7,422.9 L171.4,422.4 L172.1,421.8 L172.8,421.4 L173.5,421.0 L174.2,420.7 L174.9,420.6 L175.6,420.4 L176.3,420.4 L177.0,420.5 L177.7,420.7 L178.4,421.0 L179.1,421.4 L179.8,421.7 L180.5,422.1 L181.2,422.6 L181.9,423.1 L182.6,423.6 L183.3,424.2 L183.9,424.8 L184.6,425.3 L185.3,425.8 L186.0,426.2 L186.7,426.4 L187.4,426.7 L188.1,426.8 L188.8,427.0 L189.5,427.1 L190.2,427.2 L190.9,427.3 L191.6,427.4 L192.3,427.5 L193.0,427.6 L193.7,427.6 L194.4,427.7 L195.1,427.7 L195.8,427.7 L196.5,427.8 L197.2,427.8 L197.9,427.8 L198.6,427.8 L199.3,427.8 L200.0,427.8 L200.7,427.8 L201.4,427.7 L202.1,427.7 L202.8,427.7 L203.5,427.7 L204.2,427.7 L204.9,427.7 L205.6,427.7 L206.3,427.7 L207.0,427.8 L207.7,427.9 L208.4,427.9 L209.0,428.0 L209.7,428.1 L210.4,428.1 L211.1,428.2 L211.8,428.3 L212.5,428.4 L213.2,428.5 L213.9,428.7 L214.6,428.8 L215.3,428.9 L216.0,429.0 L216.7,429.1 L217.4,429.2 L218.1,429.3 L218.8,429.4 L219.5,429.5 L220.2,429.6 L220.9,429.6 L221.6,429.7 L222.3,429.7 L223.0,429.8 L223.7,429.8 L224.4,429.9 L225.1,429.9 L225.8,429.9 L226.5,430.0 L227.2,430.0 L227.9,430.0 L228.6,430.0 L229.3,430.1 L230.0,430.1 L230.7,430.1 L231.4,430.1 L232.1,430.1 L232.8,430.1 L233.5,430.2 L234.1,430.2 L234.8,430.2 L235.5,430.2 L236.2,430.2 L236.9,430.2 L237.6,430.2 L238.3,430.2 L239.0,430.2 L239.7,430.2 L240.4,430.2 L241.1,430.2 L241.8,430.3 L242.5,430.3 L243.2,430.3 L243.9,430.3 L244.6,430.3 L245.3,430.3 L246.0,430.3 L246.7,430.3 L247.4,430.3 L248.1,430.3 L248.8,430.3 L249.5,430.3 L250.2,430.3 L250.9,430.3 L251.6,430.3 L252.3,430.3 L253.0,430.3 L253.7,430.3 L254.4,430.3 L255.1,430.3 L255.8,430.3 L256.5,430.3 L257.2,430.3 L257.9,430.3 L258.6,430.3 L259.2,430.3 L259.9,430.3 L260.6,430.3 L261.3,430.3 L262.0,430.3 L262.7,430.3 L263.4,430.3 L264.1,430.3 L264.8,430.3 L265.5,430.3 L266.2,430.3 L266.9,430.3 L267.6,430.3 L268.3,430.3 L269.0,430.3 L269.7,430.3 L270.4,430.4 L271.1,430.4 L271.8,430.4 L272.5,430.4 L273.2,430.4 L273.9,430.4 L274.6,430.4 L275.3,430.4 L276.0,430.4 L276.7,430.4 L277.4,430.4 L278.1,430.4 L278.8,430.4 L279.5,430.4 L280.2,430.4 L280.9,430.4 L281.6,430.4 L282.3,430.4 L283.0,430.4 L283.6,430.4 L284.3,430.4 L285.0,430.4 L285.7,430.4 L286.4,430.4 L287.1,430.4" fill="none" stroke="#ff9636" stroke-width="1.12" stroke-linejoin="round"/>
<line x1="185.6" y1="408.2" x2="185.6" y2="385.40000000000003" stroke="#000" stroke-width="1.6"/>
<polygon points="185.6,380.6 183.29999999999998,386.40000000000003 187.9,386.40000000000003" fill="#000"/>
<text x="213.3" y="360.6" font-size="15.2" fill="#1c76c6">O<tspan font-size="10" dy="3.2">2</tspan></text>
<line x1="232.8" y1="346.2" x2="232.8" y2="363.4" stroke="#1c76c6" stroke-width="1.25"/>
<polygon points="232.8,367.4 230.70000000000002,362.4 234.9,362.4" fill="#1c76c6"/>
<text x="243.2" y="360.6" font-size="15.2" fill="#111">N<tspan font-size="10" dy="3.2">2</tspan></text>
<line x1="260.5" y1="368" x2="260.5" y2="351.5" stroke="#000" stroke-width="1.3"/>
<polygon points="260.5,346.5 258.1,352.5 262.9,352.5" fill="#000"/>
<text x="3.0" y="248.7" font-size="22.5" fill="#111">(c)</text>
<text x="291.3" y="250.9" font-size="22.7" fill="#111">(d)</text>
<rect x="328.7" y="255.4" width="266" height="87.3" fill="#020202"/>
<rect x="328.8" y="380.9" width="265.9" height="86.4" fill="#020202"/>
<rect x="422" y="291.5" width="3.6" height="11.5" fill="#4a0a0c" opacity="0.55" filter="url(#blur15)"/>
<rect x="422.4" y="276" width="1.3" height="14" fill="#0c3a22" opacity="0.4" filter="url(#blur1)"/>
<rect x="444.4" y="279" width="1.3" height="30" fill="#0c3a26" opacity="0.4" filter="url(#blur1)"/>
<g transform="translate(0,0)">
<path d="M536,271.5 C546.5,281 549,317 537,328 C541,316 540,282 536,271.5 Z" fill="#15804a" opacity="0.4" filter="url(#blur2)"/>
<g filter="url(#blur1)">
<path d="M535,272.2 Q537.3,270.6 539.6,271.8 C545,281 547.5,317 538.3,327.2 Q536.2,328.4 534.4,326.8 C541.4,316 540.2,282 535,272.2 Z" fill="url(#ringg)"/>
<path d="M537.2,276 C542.6,286 543.2,313 536.8,323.5" stroke="#2cb06c" stroke-width="1.3" fill="none" opacity="0.55"/>
<path d="M532.7,283.2 Q528.6,299 533.5,317 Q536.6,299 532.7,283.2 Z" fill="#1d9e5e"/>
</g>
<circle cx="534.1" cy="299.3" r="1.2" fill="#48d893" filter="url(#blur1)" opacity="0.8"/>
<circle cx="541.5" cy="299.3" r="1.0" fill="#3ccc86" filter="url(#blur1)" opacity="0.5"/>
</g>
<text x="330.1" y="271.3" font-size="13.25" fill="#f4f4f4">1 in acetone, phosphorescence “OFF”</text>
<polygon points="390.88,277.95 403.30,292.21 401.08,294.15 410.40,297.70 408.17,287.98 405.94,289.91 393.52,275.65" fill="#fff"/>
<text x="508.6" y="338.4" font-size="13.1" fill="#f4f4f4"><tspan font-style="italic">Ex</tspan> = 510 nm</text>
<path d="M440.8,346.4 L445,346.4 L445,364.8 L447.2,364.8 L442.9,375.4 L438.8,364.8 L440.8,364.8 Z" fill="#fff" stroke="#555" stroke-width="0.8"/>
<text x="451.5" y="366" font-size="13.3" fill="#1a1a1a">Purged with N<tspan font-size="9" dy="2.8">2</tspan><tspan dy="-2.8"> for 1 min</tspan></text>
<rect x="407" y="401" width="19" height="38" fill="#3a0510" opacity="0.2" filter="url(#blur2)"/>
<rect x="422.4" y="424" width="4" height="11" fill="#6a0a20" opacity="0.5" filter="url(#blur15)"/>
<rect x="404.5" y="412.2" width="21.7" height="14" fill="url(#redg)" filter="url(#blur15)"/>
<path d="M407.6,396.6 Q416,399.6 424.8,396.4" stroke="#b40e2e" stroke-width="1.9" fill="none" opacity="0.95" filter="url(#blur1)"/>
<rect x="444.4" y="401" width="1.3" height="26" fill="#0c3a26" opacity="0.4" filter="url(#blur1)"/>
<g transform="translate(0,122.9)">
<path d="M536,271.5 C546.5,281 549,317 537,328 C541,316 540,282 536,271.5 Z" fill="#15804a" opacity="0.4" filter="url(#blur2)"/>
<g filter="url(#blur1)">
<path d="M535,272.2 Q537.3,270.6 539.6,271.8 C545,281 547.5,317 538.3,327.2 Q536.2,328.4 534.4,326.8 C541.4,316 540.2,282 535,272.2 Z" fill="url(#ringg)"/>
<path d="M537.2,276 C542.6,286 543.2,313 536.8,323.5" stroke="#2cb06c" stroke-width="1.3" fill="none" opacity="0.55"/>
<path d="M532.7,283.2 Q528.6,299 533.5,317 Q536.6,299 532.7,283.2 Z" fill="#1d9e5e"/>
</g>
<circle cx="534.1" cy="299.3" r="1.2" fill="#48d893" filter="url(#blur1)" opacity="0.8"/>
<circle cx="541.5" cy="299.3" r="1.0" fill="#3ccc86" filter="url(#blur1)" opacity="0.5"/>
</g>
<text x="330.2" y="394.2" font-size="13.25" fill="#f4f4f4">1 in acetone, phosphorescence “ON”</text>
<polygon points="390.49,399.46 403.17,413.85 400.96,415.80 410.30,419.30 408.01,409.59 405.80,411.54 393.11,397.14" fill="#fff"/>
</svg></body></html>
